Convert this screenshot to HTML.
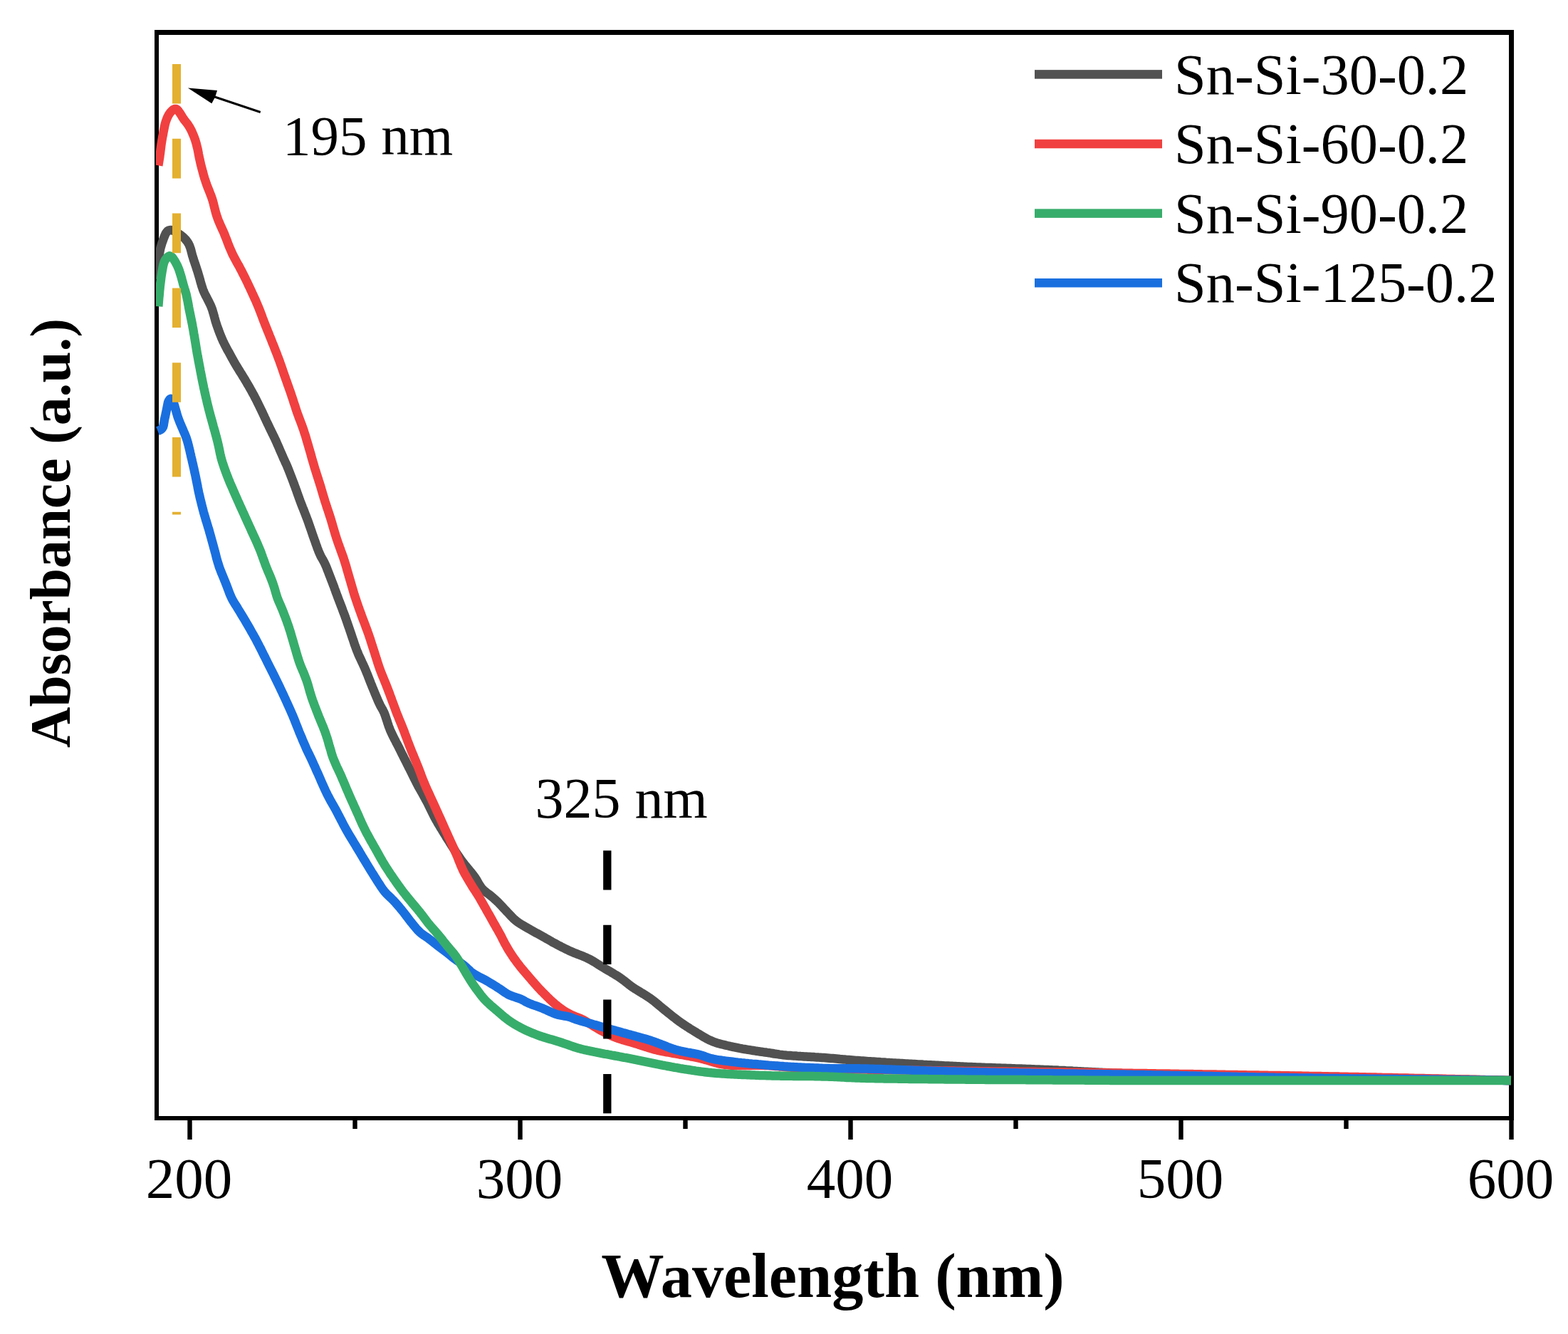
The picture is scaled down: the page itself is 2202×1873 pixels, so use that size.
<!DOCTYPE html>
<html><head><meta charset="utf-8"><title>UV-Vis Absorbance</title>
<style>html,body{margin:0;padding:0;background:#fff;overflow:hidden}svg{display:block}</style>
</head><body>
<svg width="2202" height="1873" viewBox="0 0 2202 1873">
<rect width="100%" height="100%" fill="#fff"/>
<defs><clipPath id="pc"><rect x="219" y="49" width="1904" height="1518"/></clipPath></defs>
<g fill="#000">
<rect x="217" y="42" width="1909" height="7"/>
<rect x="217" y="1567" width="1909" height="6"/>
<rect x="217" y="42" width="6" height="1531"/>
<rect x="2119" y="42" width="7" height="1531"/>
</g>
<g fill="none" stroke-width="12.5" stroke-linejoin="round" stroke-linecap="butt" clip-path="url(#pc)">
<path d="M221.0,392.0 L221.2,389.5 L221.4,387.0 L221.5,384.5 L221.7,382.0 L221.9,379.5 L222.1,377.0 L222.3,374.5 L222.5,372.0 L222.7,369.6 L222.9,367.1 L223.1,364.6 L223.3,362.1 L223.6,359.6 L223.8,357.1 L224.2,354.6 L224.6,352.2 L225.1,349.7 L225.7,347.3 L226.4,344.9 L227.1,342.5 L227.9,340.1 L228.8,337.7 L229.6,335.4 L230.5,333.0 L231.4,330.7 L232.4,328.4 L233.7,326.3 L235.3,324.5 L237.4,323.3 L239.7,322.9 L242.1,323.4 L244.3,324.4 L246.5,325.5 L248.7,326.8 L250.8,328.1 L252.9,329.5 L254.9,331.0 L256.8,332.6 L258.7,334.2 L260.4,336.0 L262.0,338.0 L263.5,340.0 L264.8,342.1 L265.9,344.4 L266.8,346.7 L267.6,349.0 L268.3,351.5 L268.9,353.9 L269.5,356.3 L270.1,358.7 L270.9,361.1 L271.6,363.5 L272.4,365.9 L273.2,368.3 L274.0,370.6 L274.8,373.0 L275.6,375.4 L276.3,377.7 L277.1,380.1 L277.9,382.5 L278.6,384.9 L279.3,387.3 L280.0,389.7 L280.7,392.1 L281.3,394.5 L282.0,396.9 L282.7,399.3 L283.4,401.7 L284.2,404.1 L285.0,406.5 L285.9,408.8 L286.9,411.1 L288.0,413.4 L289.1,415.6 L290.3,417.8 L291.4,420.0 L292.6,422.2 L293.7,424.5 L294.8,426.7 L295.9,429.0 L296.8,431.3 L297.7,433.6 L298.5,436.0 L299.2,438.4 L299.9,440.8 L300.6,443.2 L301.2,445.6 L301.9,448.1 L302.5,450.5 L303.3,452.9 L304.0,455.2 L304.8,457.6 L305.7,460.0 L306.5,462.3 L307.4,464.7 L308.2,467.0 L309.1,469.3 L310.1,471.7 L311.0,474.0 L312.0,476.3 L313.0,478.6 L314.1,480.8 L315.2,483.1 L316.3,485.3 L317.5,487.5 L318.6,489.7 L319.8,491.9 L321.1,494.1 L322.3,496.3 L323.5,498.5 L324.7,500.7 L325.9,502.9 L327.1,505.1 L328.3,507.3 L329.5,509.4 L330.8,511.6 L332.1,513.8 L333.4,515.9 L334.7,518.0 L336.0,520.1 L337.3,522.3 L338.7,524.4 L340.0,526.5 L341.3,528.7 L342.6,530.8 L343.9,532.9 L345.2,535.1 L346.5,537.2 L347.7,539.4 L349.0,541.5 L350.3,543.7 L351.5,545.9 L352.7,548.0 L353.9,550.2 L355.1,552.4 L356.3,554.6 L357.5,556.9 L358.6,559.1 L359.8,561.3 L360.9,563.5 L362.0,565.8 L363.1,568.0 L364.2,570.2 L365.3,572.5 L366.4,574.7 L367.5,577.0 L368.6,579.3 L369.6,581.5 L370.7,583.8 L371.7,586.1 L372.8,588.3 L373.8,590.6 L374.9,592.9 L376.0,595.1 L377.1,597.4 L378.1,599.6 L379.2,601.9 L380.3,604.1 L381.4,606.4 L382.5,608.6 L383.6,610.9 L384.7,613.1 L385.8,615.4 L386.9,617.7 L387.9,619.9 L388.9,622.2 L389.9,624.5 L390.9,626.8 L391.9,629.1 L392.9,631.4 L393.9,633.7 L394.9,636.0 L395.9,638.3 L396.9,640.6 L397.9,642.9 L398.9,645.1 L400.0,647.4 L401.0,649.7 L402.1,652.0 L403.1,654.3 L404.0,656.6 L405.0,658.9 L405.9,661.2 L406.8,663.5 L407.7,665.9 L408.6,668.2 L409.5,670.5 L410.4,672.9 L411.3,675.2 L412.2,677.6 L413.0,679.9 L413.9,682.2 L414.8,684.6 L415.6,686.9 L416.5,689.3 L417.3,691.7 L418.1,694.0 L419.0,696.4 L419.8,698.7 L420.7,701.1 L421.5,703.4 L422.4,705.8 L423.3,708.1 L424.2,710.4 L425.1,712.8 L426.1,715.1 L427.0,717.4 L427.9,719.7 L428.8,722.1 L429.7,724.4 L430.6,726.7 L431.5,729.1 L432.4,731.4 L433.2,733.8 L434.0,736.1 L434.8,738.5 L435.7,740.9 L436.5,743.2 L437.3,745.6 L438.1,748.0 L438.9,750.3 L439.7,752.7 L440.6,755.1 L441.4,757.4 L442.3,759.8 L443.1,762.1 L443.9,764.5 L444.8,766.8 L445.6,769.2 L446.5,771.5 L447.4,773.9 L448.4,776.2 L449.4,778.5 L450.4,780.7 L451.6,782.9 L452.9,785.1 L454.1,787.3 L455.3,789.5 L456.4,791.7 L457.4,794.0 L458.4,796.3 L459.3,798.6 L460.2,801.0 L461.1,803.3 L462.0,805.6 L462.9,808.0 L463.8,810.3 L464.7,812.6 L465.6,815.0 L466.5,817.3 L467.4,819.6 L468.3,822.0 L469.2,824.3 L470.0,826.7 L470.9,829.0 L471.7,831.4 L472.6,833.7 L473.5,836.1 L474.3,838.4 L475.2,840.7 L476.1,843.1 L477.0,845.4 L477.9,847.8 L478.8,850.1 L479.7,852.4 L480.6,854.8 L481.4,857.1 L482.3,859.5 L483.2,861.8 L484.1,864.1 L484.9,866.5 L485.8,868.9 L486.6,871.2 L487.4,873.6 L488.2,875.9 L489.0,878.3 L489.9,880.7 L490.7,883.0 L491.5,885.4 L492.3,887.8 L493.1,890.1 L493.9,892.5 L494.7,894.9 L495.5,897.2 L496.3,899.6 L497.1,902.0 L497.9,904.4 L498.7,906.7 L499.6,909.1 L500.4,911.4 L501.3,913.8 L502.3,916.1 L503.2,918.4 L504.2,920.7 L505.3,923.0 L506.3,925.2 L507.4,927.5 L508.4,929.8 L509.5,932.0 L510.5,934.3 L511.6,936.6 L512.6,938.9 L513.6,941.2 L514.5,943.5 L515.4,945.8 L516.4,948.1 L517.3,950.5 L518.2,952.8 L519.1,955.1 L520.0,957.4 L520.9,959.8 L521.9,962.1 L522.8,964.4 L523.8,966.7 L524.7,969.0 L525.7,971.4 L526.6,973.7 L527.6,976.0 L528.5,978.3 L529.5,980.6 L530.5,982.9 L531.5,985.2 L532.6,987.5 L533.6,989.7 L534.8,991.9 L536.0,994.1 L537.3,996.3 L538.4,998.5 L539.5,1000.8 L540.4,1003.1 L541.2,1005.4 L542.0,1007.8 L542.8,1010.2 L543.6,1012.6 L544.3,1014.9 L545.1,1017.3 L545.9,1019.7 L546.8,1022.0 L547.7,1024.4 L548.7,1026.7 L549.7,1028.9 L550.8,1031.2 L551.9,1033.5 L553.0,1035.7 L554.1,1037.9 L555.3,1040.1 L556.4,1042.4 L557.6,1044.6 L558.7,1046.8 L559.9,1049.0 L561.0,1051.3 L562.1,1053.5 L563.2,1055.7 L564.3,1058.0 L565.5,1060.2 L566.6,1062.5 L567.7,1064.7 L568.8,1066.9 L570.0,1069.2 L571.1,1071.4 L572.2,1073.6 L573.3,1075.9 L574.4,1078.1 L575.6,1080.3 L576.7,1082.6 L577.8,1084.8 L578.9,1087.1 L580.0,1089.3 L581.1,1091.6 L582.2,1093.8 L583.4,1096.0 L584.5,1098.2 L585.7,1100.5 L586.8,1102.7 L588.0,1104.9 L589.2,1107.1 L590.5,1109.2 L591.7,1111.4 L592.9,1113.6 L594.1,1115.8 L595.3,1118.0 L596.6,1120.2 L597.7,1122.4 L598.9,1124.6 L600.1,1126.8 L601.2,1129.0 L602.3,1131.3 L603.4,1133.5 L604.5,1135.8 L605.6,1138.0 L606.7,1140.3 L607.8,1142.5 L608.9,1144.7 L610.1,1147.0 L611.3,1149.2 L612.5,1151.4 L613.7,1153.5 L614.9,1155.7 L616.2,1157.9 L617.5,1160.0 L618.8,1162.2 L620.1,1164.3 L621.4,1166.4 L622.7,1168.6 L624.0,1170.7 L625.3,1172.8 L626.6,1175.0 L627.9,1177.1 L629.3,1179.2 L630.6,1181.3 L631.9,1183.4 L633.3,1185.6 L634.6,1187.7 L635.9,1189.8 L637.3,1191.9 L638.6,1194.0 L640.0,1196.1 L641.4,1198.2 L642.8,1200.3 L644.2,1202.3 L645.6,1204.4 L647.0,1206.5 L648.5,1208.5 L649.9,1210.5 L651.5,1212.5 L653.0,1214.5 L654.6,1216.4 L656.2,1218.3 L657.8,1220.2 L659.4,1222.2 L661.0,1224.1 L662.6,1226.0 L664.1,1228.0 L665.6,1230.0 L667.1,1232.0 L668.5,1234.1 L669.8,1236.2 L671.0,1238.4 L672.2,1240.6 L673.5,1242.7 L674.9,1244.8 L676.3,1246.9 L678.0,1248.7 L679.8,1250.5 L681.7,1252.0 L683.7,1253.6 L685.7,1255.0 L687.7,1256.5 L689.7,1258.1 L691.6,1259.7 L693.5,1261.4 L695.3,1263.0 L697.2,1264.7 L699.0,1266.4 L700.8,1268.2 L702.5,1270.0 L704.2,1271.8 L705.9,1273.6 L707.6,1275.5 L709.3,1277.3 L711.0,1279.1 L712.8,1281.0 L714.5,1282.8 L716.2,1284.6 L717.9,1286.4 L719.6,1288.2 L721.4,1290.0 L723.3,1291.6 L725.2,1293.2 L727.2,1294.7 L729.3,1296.1 L731.4,1297.5 L733.5,1298.8 L735.7,1300.0 L737.9,1301.3 L740.0,1302.5 L742.2,1303.8 L744.4,1305.0 L746.5,1306.3 L748.7,1307.5 L750.9,1308.7 L753.1,1309.9 L755.3,1311.1 L757.5,1312.3 L759.7,1313.5 L761.9,1314.7 L764.1,1315.9 L766.2,1317.2 L768.4,1318.4 L770.6,1319.7 L772.7,1320.9 L774.9,1322.2 L777.1,1323.4 L779.3,1324.6 L781.5,1325.8 L783.7,1327.0 L785.9,1328.1 L788.1,1329.3 L790.4,1330.4 L792.6,1331.5 L794.8,1332.6 L797.1,1333.7 L799.4,1334.8 L801.6,1335.8 L803.9,1336.8 L806.2,1337.8 L808.6,1338.7 L810.9,1339.6 L813.2,1340.5 L815.6,1341.4 L817.9,1342.3 L820.2,1343.3 L822.5,1344.2 L824.8,1345.3 L827.0,1346.4 L829.3,1347.5 L831.4,1348.7 L833.6,1350.0 L835.7,1351.3 L837.8,1352.6 L839.9,1354.0 L842.1,1355.3 L844.2,1356.7 L846.3,1358.0 L848.4,1359.3 L850.6,1360.6 L852.7,1361.8 L854.9,1363.1 L857.1,1364.3 L859.2,1365.6 L861.4,1366.9 L863.5,1368.2 L865.7,1369.5 L867.8,1370.8 L869.9,1372.2 L871.9,1373.6 L874.0,1375.1 L875.9,1376.6 L877.9,1378.1 L879.9,1379.7 L881.8,1381.2 L883.8,1382.8 L885.8,1384.3 L887.8,1385.7 L889.9,1387.1 L892.0,1388.5 L894.1,1389.8 L896.3,1391.1 L898.4,1392.4 L900.5,1393.7 L902.7,1395.0 L904.8,1396.3 L906.9,1397.6 L909.0,1399.0 L911.1,1400.4 L913.2,1401.8 L915.2,1403.3 L917.2,1404.8 L919.2,1406.3 L921.1,1407.9 L923.1,1409.5 L925.0,1411.1 L926.9,1412.7 L928.8,1414.3 L930.7,1415.9 L932.7,1417.5 L934.6,1419.0 L936.6,1420.6 L938.5,1422.2 L940.5,1423.7 L942.4,1425.3 L944.4,1426.9 L946.4,1428.4 L948.3,1429.9 L950.3,1431.5 L952.3,1433.0 L954.3,1434.5 L956.4,1435.9 L958.4,1437.3 L960.5,1438.7 L962.6,1440.1 L964.7,1441.5 L966.8,1442.8 L968.9,1444.2 L971.0,1445.5 L973.1,1446.8 L975.3,1448.1 L977.4,1449.4 L979.5,1450.7 L981.7,1452.0 L983.8,1453.3 L986.0,1454.6 L988.1,1455.9 L990.3,1457.1 L992.5,1458.4 L994.7,1459.5 L996.9,1460.6 L999.2,1461.6 L1001.5,1462.6 L1003.9,1463.4 L1006.3,1464.2 L1008.7,1464.9 L1011.1,1465.6 L1013.5,1466.2 L1015.9,1466.8 L1018.3,1467.4 L1020.8,1468.0 L1023.2,1468.5 L1025.7,1469.1 L1028.1,1469.6 L1030.5,1470.2 L1033.0,1470.7 L1035.4,1471.2 L1037.9,1471.7 L1040.4,1472.1 L1042.8,1472.6 L1045.3,1473.0 L1047.7,1473.4 L1050.2,1473.8 L1052.7,1474.2 L1055.2,1474.6 L1057.6,1475.0 L1060.1,1475.4 L1062.6,1475.8 L1065.0,1476.1 L1067.5,1476.5 L1070.0,1476.8 L1072.5,1477.2 L1075.0,1477.5 L1077.4,1477.9 L1079.9,1478.2 L1082.4,1478.6 L1084.8,1479.0 L1087.3,1479.5 L1089.8,1479.8 L1092.3,1480.2 L1094.7,1480.6 L1097.2,1480.9 L1099.7,1481.2 L1102.2,1481.4 L1104.7,1481.7 L1107.2,1481.9 L1109.7,1482.1 L1112.2,1482.3 L1114.7,1482.4 L1117.2,1482.6 L1119.6,1482.8 L1122.1,1482.9 L1124.6,1483.1 L1127.1,1483.2 L1129.6,1483.4 L1132.1,1483.5 L1134.6,1483.7 L1137.1,1483.8 L1139.6,1484.0 L1142.1,1484.1 L1144.6,1484.3 L1147.1,1484.4 L1149.6,1484.6 L1152.1,1484.7 L1154.6,1484.9 L1157.1,1485.1 L1159.6,1485.3 L1162.1,1485.5 L1164.6,1485.7 L1167.1,1485.9 L1169.6,1486.1 L1172.1,1486.3 L1174.6,1486.5 L1177.0,1486.7 L1179.5,1487.0 L1182.0,1487.2 L1184.5,1487.4 L1187.0,1487.6 L1189.5,1487.9 L1192.0,1488.1 L1194.5,1488.3 L1197.0,1488.5 L1199.5,1488.7 L1202.0,1488.9 L1204.5,1489.1 L1207.0,1489.3 L1209.5,1489.5 L1211.9,1489.6 L1214.4,1489.8 L1216.9,1490.0 L1219.4,1490.2 L1221.9,1490.3 L1224.4,1490.5 L1226.9,1490.6 L1229.4,1490.8 L1231.9,1491.0 L1234.4,1491.1 L1236.9,1491.3 L1239.4,1491.4 L1241.9,1491.6 L1244.4,1491.8 L1246.9,1491.9 L1249.4,1492.1 L1251.9,1492.2 L1254.4,1492.4 L1256.9,1492.5 L1259.4,1492.7 L1261.9,1492.8 L1264.4,1493.0 L1266.9,1493.1 L1269.4,1493.2 L1271.9,1493.4 L1274.4,1493.5 L1276.9,1493.7 L1279.4,1493.8 L1281.9,1494.0 L1284.4,1494.1 L1286.9,1494.2 L1289.4,1494.4 L1291.8,1494.5 L1294.3,1494.6 L1296.8,1494.8 L1299.3,1494.9 L1301.8,1495.1 L1304.3,1495.2 L1306.8,1495.3 L1309.3,1495.5 L1311.8,1495.6 L1314.3,1495.7 L1316.8,1495.8 L1319.3,1496.0 L1321.8,1496.1 L1324.3,1496.2 L1326.8,1496.4 L1329.3,1496.5 L1331.8,1496.6 L1334.3,1496.7 L1336.8,1496.8 L1339.3,1497.0 L1341.8,1497.1 L1344.3,1497.2 L1346.8,1497.3 L1349.3,1497.4 L1351.8,1497.5 L1354.3,1497.7 L1356.8,1497.8 L1359.3,1497.9 L1361.8,1498.0 L1364.3,1498.1 L1366.8,1498.2 L1369.3,1498.3 L1371.8,1498.4 L1374.3,1498.5 L1376.8,1498.6 L1379.3,1498.7 L1381.8,1498.8 L1384.3,1498.9 L1386.8,1498.9 L1389.3,1499.0 L1391.8,1499.1 L1394.3,1499.2 L1396.8,1499.3 L1399.3,1499.4 L1401.8,1499.5 L1404.3,1499.6 L1406.8,1499.7 L1409.3,1499.7 L1411.8,1499.8 L1414.3,1499.9 L1416.8,1500.0 L1419.3,1500.1 L1421.8,1500.2 L1424.3,1500.3 L1426.8,1500.4 L1429.3,1500.4 L1431.8,1500.5 L1434.3,1500.6 L1436.8,1500.7 L1439.3,1500.8 L1441.8,1500.9 L1444.3,1501.0 L1446.8,1501.1 L1449.3,1501.2 L1451.8,1501.3 L1454.3,1501.4 L1456.8,1501.5 L1459.3,1501.6 L1461.8,1501.7 L1464.3,1501.8 L1466.8,1501.9 L1469.3,1502.0 L1471.8,1502.1 L1474.3,1502.2 L1476.8,1502.3 L1479.3,1502.4 L1481.8,1502.5 L1484.3,1502.6 L1486.8,1502.8 L1489.3,1502.9 L1491.8,1503.0 L1494.3,1503.1 L1496.8,1503.3 L1499.3,1503.4 L1501.8,1503.5 L1504.3,1503.6 L1506.8,1503.8 L1509.3,1503.9 L1511.8,1504.0 L1514.3,1504.2 L1516.8,1504.3 L1519.3,1504.4 L1521.8,1504.6 L1524.3,1504.7 L1526.8,1504.8 L1529.3,1505.0 L1531.8,1505.1 L1534.3,1505.2 L1536.8,1505.3 L1539.3,1505.5 L1541.8,1505.6 L1544.3,1505.7 L1546.8,1505.8 L1549.3,1506.0 L1551.8,1506.1 L1554.3,1506.2 L1556.8,1506.3 L1559.2,1506.4 L1561.7,1506.6 L1564.2,1506.7 L1566.7,1506.8 L1569.2,1506.9 L1571.7,1507.0 L1574.2,1507.1 L1576.7,1507.2 L1579.2,1507.3 L1581.7,1507.4 L1584.2,1507.5 L1586.7,1507.6 L1589.2,1507.7 L1591.7,1507.7 L1594.2,1507.8 L1596.7,1507.9 L1599.2,1508.0 L1601.7,1508.1 L1604.2,1508.1 L1606.7,1508.2 L1609.2,1508.3 L1611.7,1508.3 L1614.2,1508.4 L1616.8,1508.5 L1619.3,1508.5 L1621.8,1508.6 L1624.3,1508.6 L1626.8,1508.7 L1629.3,1508.7 L1631.8,1508.8 L1634.3,1508.8 L1636.8,1508.9 L1639.3,1508.9 L1641.8,1509.0 L1644.3,1509.0 L1646.8,1509.1 L1649.3,1509.1 L1651.8,1509.2 L1654.3,1509.2 L1656.8,1509.3 L1659.3,1509.3 L1661.8,1509.3 L1664.3,1509.4 L1666.8,1509.4 L1669.3,1509.4 L1671.8,1509.5 L1674.3,1509.5 L1676.8,1509.6 L1679.3,1509.6 L1681.8,1509.6 L1684.3,1509.7 L1686.8,1509.7 L1689.3,1509.7 L1691.8,1509.8 L1694.3,1509.8 L1696.8,1509.8 L1699.3,1509.8 L1701.8,1509.9 L1704.3,1509.9 L1706.8,1509.9 L1709.3,1510.0 L1711.8,1510.0 L1714.3,1510.0 L1716.8,1510.1 L1719.3,1510.1 L1721.8,1510.1 L1724.3,1510.1 L1726.8,1510.2 L1729.3,1510.2 L1731.8,1510.2 L1734.3,1510.2 L1736.8,1510.3 L1739.3,1510.3 L1741.8,1510.3 L1744.3,1510.3 L1746.8,1510.4 L1749.3,1510.4 L1751.8,1510.4 L1754.3,1510.4 L1756.8,1510.5 L1759.3,1510.5 L1761.8,1510.5 L1764.3,1510.5 L1766.8,1510.6 L1769.3,1510.6 L1771.8,1510.6 L1774.3,1510.6 L1776.8,1510.7 L1779.3,1510.7 L1781.8,1510.7 L1784.3,1510.8 L1786.8,1510.8 L1789.3,1510.8 L1791.8,1510.8 L1794.3,1510.9 L1796.8,1510.9 L1799.4,1510.9 L1801.9,1510.9 L1804.4,1511.0 L1806.9,1511.0 L1809.4,1511.0 L1811.9,1511.1 L1814.4,1511.1 L1816.9,1511.1 L1819.4,1511.2 L1821.9,1511.2 L1824.4,1511.2 L1826.9,1511.2 L1829.4,1511.3 L1831.9,1511.3 L1834.4,1511.4 L1836.9,1511.4 L1839.4,1511.4 L1841.9,1511.5 L1844.4,1511.5 L1846.9,1511.5 L1849.4,1511.6 L1851.9,1511.6 L1854.4,1511.7 L1856.9,1511.7 L1859.4,1511.8 L1861.9,1511.8 L1864.4,1511.9 L1866.9,1511.9 L1869.4,1512.0 L1871.9,1512.0 L1874.4,1512.1 L1876.9,1512.1 L1879.4,1512.1 L1881.9,1512.2 L1884.4,1512.2 L1886.9,1512.3 L1889.4,1512.4 L1891.9,1512.4 L1894.4,1512.5 L1896.9,1512.5 L1899.4,1512.6 L1901.9,1512.6 L1904.4,1512.7 L1906.9,1512.7 L1909.4,1512.8 L1911.9,1512.8 L1914.4,1512.9 L1916.9,1512.9 L1919.4,1513.0 L1921.9,1513.0 L1924.4,1513.1 L1926.9,1513.2 L1929.4,1513.2 L1931.9,1513.3 L1934.4,1513.3 L1936.9,1513.4 L1939.4,1513.4 L1941.9,1513.5 L1944.4,1513.5 L1946.9,1513.6 L1949.4,1513.6 L1951.9,1513.7 L1954.4,1513.7 L1956.9,1513.8 L1959.4,1513.8 L1961.9,1513.9 L1964.4,1513.9 L1966.9,1514.0 L1969.4,1514.0 L1971.9,1514.1 L1974.4,1514.1 L1976.9,1514.2 L1979.4,1514.2 L1981.9,1514.3 L1984.4,1514.3 L1986.9,1514.4 L1989.4,1514.4 L1991.9,1514.5 L1994.4,1514.5 L1996.9,1514.6 L1999.4,1514.6 L2001.9,1514.7 L2004.4,1514.7 L2006.9,1514.8 L2009.4,1514.8 L2011.9,1514.9 L2014.5,1514.9 L2017.0,1515.0 L2019.5,1515.0 L2022.0,1515.1 L2024.5,1515.1 L2027.0,1515.2 L2029.5,1515.2 L2032.0,1515.3 L2034.5,1515.3 L2037.0,1515.4 L2039.5,1515.4 L2042.0,1515.5 L2044.5,1515.5 L2047.0,1515.6 L2049.5,1515.6 L2052.0,1515.7 L2054.5,1515.7 L2057.0,1515.7 L2059.5,1515.8 L2062.0,1515.8 L2064.5,1515.9 L2067.0,1515.9 L2069.5,1516.0 L2072.0,1516.0 L2074.5,1516.1 L2077.0,1516.1 L2079.5,1516.2 L2082.0,1516.2 L2084.5,1516.3 L2087.0,1516.3 L2089.5,1516.4 L2092.0,1516.4 L2094.5,1516.5 L2097.0,1516.5 L2099.5,1516.6 L2102.0,1516.6 L2104.5,1516.7 L2107.0,1516.7 L2109.5,1516.8 L2112.0,1516.8 L2114.5,1516.9 L2117.0,1516.9 L2119.5,1517.0 L2122.0,1517.0" stroke="#515151"/>
<path d="M222.3,232.4 L222.7,229.9 L223.1,227.5 L223.5,225.0 L223.9,222.5 L224.3,220.1 L224.6,217.6 L225.0,215.1 L225.3,212.6 L225.6,210.1 L225.9,207.7 L226.2,205.2 L226.5,202.7 L226.9,200.2 L227.3,197.8 L227.7,195.3 L228.1,192.8 L228.6,190.4 L229.1,187.9 L229.5,185.5 L230.0,183.0 L230.5,180.5 L231.0,178.1 L231.5,175.6 L232.1,173.2 L232.8,170.8 L233.6,168.5 L234.5,166.1 L235.5,163.9 L236.7,161.6 L238.0,159.5 L239.5,157.5 L241.2,155.7 L243.1,154.1 L245.2,153.0 L247.3,152.9 L249.2,154.2 L250.8,156.1 L252.2,158.2 L253.6,160.2 L254.9,162.3 L256.2,164.5 L257.6,166.6 L259.0,168.6 L260.6,170.6 L262.1,172.5 L263.6,174.5 L265.0,176.6 L266.3,178.8 L267.5,180.9 L268.7,183.2 L269.7,185.4 L270.7,187.7 L271.7,190.0 L272.6,192.3 L273.5,194.7 L274.3,197.1 L275.0,199.4 L275.7,201.8 L276.3,204.3 L276.9,206.7 L277.5,209.1 L278.0,211.6 L278.5,214.0 L278.9,216.5 L279.4,218.9 L279.9,221.4 L280.4,223.8 L281.0,226.3 L281.5,228.7 L282.1,231.2 L282.7,233.6 L283.3,236.0 L284.0,238.4 L284.6,240.8 L285.3,243.3 L285.9,245.7 L286.6,248.1 L287.3,250.5 L288.1,252.8 L288.9,255.2 L289.7,257.6 L290.5,259.9 L291.4,262.3 L292.3,264.6 L293.3,266.9 L294.2,269.2 L295.1,271.6 L296.0,273.9 L296.9,276.3 L297.7,278.6 L298.5,281.0 L299.2,283.4 L299.8,285.8 L300.4,288.2 L301.0,290.7 L301.6,293.1 L302.2,295.5 L302.9,297.9 L303.5,300.3 L304.3,302.7 L305.1,305.1 L305.9,307.4 L306.8,309.8 L307.8,312.1 L308.8,314.4 L309.8,316.7 L310.8,318.9 L311.8,321.2 L312.9,323.5 L313.9,325.8 L314.9,328.1 L315.8,330.4 L316.7,332.7 L317.7,335.1 L318.6,337.4 L319.4,339.7 L320.3,342.1 L321.2,344.4 L322.1,346.7 L323.1,349.0 L324.1,351.3 L325.1,353.6 L326.1,355.9 L327.2,358.1 L328.4,360.4 L329.5,362.6 L330.7,364.8 L331.9,367.0 L333.1,369.2 L334.3,371.3 L335.6,373.5 L336.7,375.7 L337.9,377.9 L339.1,380.2 L340.2,382.4 L341.3,384.6 L342.5,386.9 L343.6,389.1 L344.7,391.3 L345.8,393.6 L346.9,395.8 L348.0,398.1 L349.0,400.3 L350.1,402.6 L351.2,404.9 L352.2,407.1 L353.3,409.4 L354.3,411.7 L355.4,413.9 L356.4,416.2 L357.4,418.5 L358.5,420.8 L359.5,423.1 L360.5,425.4 L361.5,427.7 L362.4,430.0 L363.4,432.3 L364.3,434.6 L365.2,436.9 L366.1,439.3 L367.0,441.6 L367.9,443.9 L368.7,446.3 L369.6,448.6 L370.5,451.0 L371.4,453.3 L372.3,455.6 L373.2,457.9 L374.2,460.3 L375.1,462.6 L376.0,464.9 L377.0,467.2 L377.9,469.5 L378.8,471.9 L379.8,474.2 L380.7,476.5 L381.6,478.8 L382.5,481.2 L383.5,483.5 L384.4,485.8 L385.3,488.1 L386.2,490.5 L387.1,492.8 L388.0,495.1 L389.0,497.4 L389.8,499.8 L390.7,502.1 L391.6,504.5 L392.5,506.8 L393.3,509.2 L394.1,511.5 L395.0,513.9 L395.8,516.2 L396.6,518.6 L397.4,521.0 L398.2,523.3 L399.0,525.7 L399.9,528.1 L400.7,530.4 L401.5,532.8 L402.4,535.1 L403.2,537.5 L404.0,539.9 L404.9,542.2 L405.7,544.6 L406.5,546.9 L407.4,549.3 L408.2,551.6 L409.0,554.0 L409.8,556.4 L410.6,558.8 L411.4,561.1 L412.1,563.5 L412.9,565.9 L413.7,568.3 L414.5,570.6 L415.2,573.0 L416.0,575.4 L416.8,577.8 L417.6,580.1 L418.5,582.5 L419.3,584.8 L420.2,587.2 L421.1,589.5 L422.0,591.9 L422.9,594.2 L423.7,596.5 L424.6,598.9 L425.4,601.2 L426.3,603.6 L427.0,606.0 L427.8,608.4 L428.6,610.7 L429.3,613.1 L430.0,615.5 L430.7,617.9 L431.4,620.3 L432.1,622.7 L432.8,625.1 L433.5,627.5 L434.2,629.9 L434.9,632.3 L435.6,634.7 L436.3,637.1 L436.9,639.5 L437.6,642.0 L438.3,644.4 L439.0,646.8 L439.7,649.2 L440.4,651.6 L441.1,654.0 L441.8,656.4 L442.5,658.8 L443.3,661.1 L444.0,663.5 L444.8,665.9 L445.5,668.3 L446.3,670.7 L447.1,673.1 L447.8,675.4 L448.6,677.8 L449.3,680.2 L450.1,682.6 L450.8,685.0 L451.5,687.4 L452.2,689.8 L452.9,692.2 L453.6,694.6 L454.3,697.0 L455.1,699.4 L455.8,701.8 L456.5,704.2 L457.3,706.5 L458.1,708.9 L458.8,711.3 L459.6,713.7 L460.4,716.0 L461.2,718.4 L462.0,720.8 L462.7,723.2 L463.5,725.6 L464.3,727.9 L465.0,730.3 L465.7,732.7 L466.4,735.1 L467.1,737.5 L467.8,739.9 L468.5,742.3 L469.2,744.7 L469.9,747.1 L470.6,749.5 L471.4,751.9 L472.1,754.3 L472.9,756.7 L473.7,759.0 L474.5,761.4 L475.3,763.8 L476.2,766.1 L477.0,768.5 L477.9,770.8 L478.7,773.2 L479.6,775.5 L480.4,777.9 L481.3,780.2 L482.1,782.6 L482.9,785.0 L483.6,787.3 L484.4,789.7 L485.1,792.1 L485.9,794.5 L486.6,796.9 L487.2,799.3 L487.9,801.7 L488.6,804.1 L489.3,806.5 L490.0,808.9 L490.7,811.3 L491.4,813.7 L492.1,816.1 L492.8,818.5 L493.5,820.9 L494.2,823.3 L494.9,825.7 L495.6,828.1 L496.3,830.5 L497.0,832.9 L497.7,835.3 L498.5,837.7 L499.3,840.1 L500.1,842.5 L500.9,844.8 L501.7,847.2 L502.5,849.6 L503.3,851.9 L504.2,854.3 L505.0,856.6 L505.9,859.0 L506.7,861.3 L507.6,863.7 L508.4,866.0 L509.3,868.4 L510.2,870.7 L511.1,873.0 L512.0,875.4 L512.9,877.7 L513.7,880.1 L514.6,882.4 L515.5,884.7 L516.3,887.1 L517.2,889.5 L518.0,891.8 L518.8,894.2 L519.6,896.6 L520.4,898.9 L521.1,901.3 L521.9,903.7 L522.6,906.1 L523.4,908.5 L524.2,910.8 L524.9,913.2 L525.7,915.6 L526.5,918.0 L527.2,920.4 L528.0,922.8 L528.7,925.1 L529.5,927.5 L530.2,929.9 L531.0,932.3 L531.8,934.7 L532.6,937.0 L533.4,939.4 L534.3,941.7 L535.2,944.1 L536.1,946.4 L537.0,948.7 L538.0,951.0 L538.9,953.3 L539.9,955.7 L540.8,958.0 L541.8,960.3 L542.7,962.6 L543.6,964.9 L544.5,967.3 L545.4,969.6 L546.3,971.9 L547.2,974.3 L548.0,976.6 L548.9,979.0 L549.8,981.3 L550.6,983.7 L551.5,986.0 L552.4,988.4 L553.2,990.7 L554.1,993.0 L555.0,995.4 L555.8,997.7 L556.7,1000.1 L557.6,1002.4 L558.6,1004.7 L559.5,1007.0 L560.4,1009.4 L561.4,1011.7 L562.3,1014.0 L563.3,1016.3 L564.2,1018.6 L565.1,1020.9 L566.1,1023.3 L567.0,1025.6 L567.9,1027.9 L568.7,1030.3 L569.6,1032.6 L570.5,1035.0 L571.4,1037.3 L572.2,1039.7 L573.1,1042.0 L574.0,1044.3 L574.9,1046.7 L575.8,1049.0 L576.7,1051.3 L577.6,1053.7 L578.5,1056.0 L579.5,1058.3 L580.5,1060.6 L581.4,1062.9 L582.4,1065.2 L583.3,1067.5 L584.3,1069.8 L585.2,1072.2 L586.2,1074.5 L587.1,1076.8 L588.0,1079.1 L588.9,1081.5 L589.8,1083.8 L590.7,1086.1 L591.5,1088.5 L592.4,1090.8 L593.3,1093.2 L594.2,1095.5 L595.2,1097.8 L596.1,1100.1 L597.1,1102.4 L598.1,1104.7 L599.1,1107.0 L600.1,1109.3 L601.2,1111.5 L602.2,1113.8 L603.3,1116.1 L604.3,1118.4 L605.3,1120.6 L606.4,1122.9 L607.4,1125.2 L608.5,1127.5 L609.5,1129.7 L610.5,1132.0 L611.6,1134.3 L612.6,1136.6 L613.6,1138.9 L614.7,1141.1 L615.7,1143.4 L616.7,1145.7 L617.8,1148.0 L618.8,1150.2 L619.8,1152.5 L620.8,1154.8 L621.9,1157.1 L622.9,1159.4 L623.9,1161.6 L624.9,1163.9 L625.9,1166.2 L627.0,1168.5 L628.0,1170.8 L629.0,1173.1 L630.0,1175.3 L631.1,1177.6 L632.1,1179.9 L633.1,1182.2 L634.2,1184.5 L635.2,1186.7 L636.2,1189.0 L637.3,1191.3 L638.3,1193.6 L639.3,1195.9 L640.3,1198.1 L641.3,1200.4 L642.3,1202.7 L643.2,1205.1 L644.1,1207.4 L645.0,1209.7 L646.0,1212.0 L646.9,1214.4 L647.9,1216.7 L648.9,1218.9 L649.9,1221.2 L651.0,1223.5 L652.2,1225.7 L653.4,1227.9 L654.6,1230.1 L655.8,1232.2 L657.1,1234.4 L658.4,1236.5 L659.7,1238.7 L661.0,1240.8 L662.3,1243.0 L663.6,1245.1 L664.9,1247.2 L666.3,1249.3 L667.7,1251.4 L669.0,1253.5 L670.4,1255.6 L671.7,1257.7 L673.0,1259.9 L674.2,1262.0 L675.5,1264.2 L676.7,1266.3 L678.0,1268.5 L679.2,1270.7 L680.4,1272.9 L681.7,1275.0 L682.9,1277.2 L684.1,1279.4 L685.3,1281.6 L686.6,1283.8 L687.8,1285.9 L689.0,1288.1 L690.2,1290.3 L691.5,1292.5 L692.7,1294.7 L693.9,1296.8 L695.2,1299.0 L696.4,1301.2 L697.6,1303.4 L698.9,1305.5 L700.1,1307.7 L701.3,1309.9 L702.5,1312.1 L703.7,1314.3 L704.8,1316.5 L705.9,1318.8 L707.1,1321.0 L708.2,1323.2 L709.4,1325.4 L710.6,1327.6 L711.8,1329.8 L713.1,1332.0 L714.4,1334.1 L715.7,1336.2 L717.0,1338.3 L718.4,1340.4 L719.8,1342.5 L721.2,1344.6 L722.6,1346.6 L724.1,1348.6 L725.6,1350.7 L727.1,1352.7 L728.6,1354.6 L730.1,1356.6 L731.7,1358.6 L733.3,1360.5 L734.9,1362.4 L736.5,1364.3 L738.1,1366.2 L739.8,1368.1 L741.4,1370.0 L743.0,1371.9 L744.7,1373.8 L746.3,1375.7 L747.9,1377.6 L749.6,1379.5 L751.2,1381.4 L752.9,1383.2 L754.5,1385.1 L756.2,1387.0 L757.9,1388.8 L759.6,1390.6 L761.3,1392.4 L763.1,1394.2 L764.9,1396.0 L766.6,1397.7 L768.4,1399.5 L770.2,1401.2 L772.0,1403.0 L773.8,1404.7 L775.7,1406.4 L777.5,1408.0 L779.4,1409.7 L781.3,1411.3 L783.3,1412.8 L785.3,1414.4 L787.3,1415.8 L789.3,1417.3 L791.4,1418.7 L793.5,1420.0 L795.7,1421.3 L797.8,1422.5 L800.0,1423.7 L802.3,1424.8 L804.6,1425.9 L806.9,1426.8 L809.2,1427.7 L811.6,1428.6 L813.9,1429.5 L816.2,1430.5 L818.4,1431.6 L820.6,1432.8 L822.8,1434.0 L824.9,1435.3 L827.1,1436.6 L829.2,1438.0 L831.3,1439.3 L833.4,1440.6 L835.5,1441.9 L837.7,1443.2 L839.8,1444.5 L842.0,1445.7 L844.2,1446.9 L846.4,1448.1 L848.6,1449.3 L850.8,1450.4 L853.1,1451.5 L855.3,1452.6 L857.6,1453.7 L859.9,1454.7 L862.2,1455.7 L864.5,1456.6 L866.8,1457.5 L869.2,1458.3 L871.6,1459.1 L874.0,1459.9 L876.3,1460.6 L878.7,1461.3 L881.2,1462.0 L883.6,1462.6 L886.0,1463.3 L888.4,1464.0 L890.8,1464.7 L893.2,1465.4 L895.5,1466.2 L897.9,1467.0 L900.3,1467.7 L902.7,1468.5 L905.1,1469.3 L907.4,1470.1 L909.8,1470.8 L912.2,1471.6 L914.6,1472.3 L917.0,1473.0 L919.4,1473.7 L921.8,1474.3 L924.3,1474.9 L926.7,1475.4 L929.1,1475.9 L931.6,1476.4 L934.1,1476.8 L936.5,1477.3 L939.0,1477.7 L941.5,1478.1 L943.9,1478.5 L946.4,1479.0 L948.8,1479.4 L951.3,1479.9 L953.8,1480.3 L956.2,1480.8 L958.7,1481.2 L961.1,1481.6 L963.6,1482.1 L966.1,1482.5 L968.5,1483.0 L971.0,1483.5 L973.4,1483.9 L975.9,1484.4 L978.3,1484.9 L980.8,1485.4 L983.2,1486.0 L985.7,1486.6 L988.1,1487.2 L990.5,1487.9 L992.9,1488.6 L995.3,1489.3 L997.7,1490.0 L1000.1,1490.8 L1002.5,1491.5 L1004.9,1492.1 L1007.3,1492.8 L1009.7,1493.3 L1012.2,1493.9 L1014.6,1494.3 L1017.1,1494.7 L1019.6,1495.0 L1022.1,1495.3 L1024.5,1495.5 L1027.0,1495.7 L1029.5,1495.8 L1032.0,1495.9 L1034.5,1495.9 L1037.0,1496.0 L1039.5,1496.0 L1042.0,1496.0 L1044.5,1496.0 L1047.0,1495.9 L1049.5,1495.9 L1052.0,1495.9 L1054.5,1495.9 L1057.0,1495.8 L1059.5,1495.8 L1062.0,1495.8 L1064.5,1495.8 L1067.0,1495.8 L1069.5,1495.8 L1072.0,1495.8 L1074.5,1495.9 L1077.0,1496.0 L1079.5,1496.1 L1082.0,1496.3 L1084.5,1496.5 L1087.0,1496.7 L1089.5,1496.9 L1092.0,1497.1 L1094.5,1497.4 L1097.0,1497.6 L1099.5,1497.8 L1102.0,1498.1 L1104.5,1498.3 L1106.9,1498.4 L1109.4,1498.6 L1111.9,1498.8 L1114.4,1498.9 L1116.9,1499.0 L1119.4,1499.2 L1121.9,1499.3 L1124.4,1499.4 L1126.9,1499.5 L1129.4,1499.6 L1131.9,1499.7 L1134.4,1499.7 L1136.9,1499.8 L1139.4,1499.9 L1141.9,1500.0 L1144.4,1500.1 L1146.9,1500.1 L1149.4,1500.2 L1151.9,1500.3 L1154.4,1500.3 L1156.9,1500.4 L1159.4,1500.5 L1161.9,1500.5 L1164.4,1500.6 L1166.9,1500.6 L1169.4,1500.7 L1171.9,1500.8 L1174.4,1500.8 L1176.9,1500.9 L1179.4,1500.9 L1181.9,1501.0 L1184.4,1501.0 L1186.9,1501.1 L1189.4,1501.1 L1191.9,1501.2 L1194.4,1501.2 L1196.9,1501.3 L1199.4,1501.3 L1201.9,1501.4 L1204.4,1501.4 L1206.9,1501.4 L1209.4,1501.5 L1211.9,1501.5 L1214.4,1501.6 L1216.9,1501.6 L1219.4,1501.7 L1221.9,1501.7 L1224.4,1501.8 L1226.9,1501.8 L1229.4,1501.8 L1231.9,1501.9 L1234.4,1501.9 L1236.9,1502.0 L1239.4,1502.0 L1241.9,1502.0 L1244.4,1502.1 L1246.9,1502.1 L1249.4,1502.2 L1251.9,1502.2 L1254.4,1502.2 L1256.9,1502.3 L1259.4,1502.3 L1261.9,1502.4 L1264.4,1502.4 L1266.9,1502.4 L1269.4,1502.5 L1271.9,1502.5 L1274.4,1502.6 L1276.9,1502.6 L1279.4,1502.7 L1281.9,1502.7 L1284.4,1502.7 L1286.9,1502.8 L1289.4,1502.8 L1291.9,1502.9 L1294.4,1502.9 L1296.9,1502.9 L1299.4,1503.0 L1301.9,1503.0 L1304.4,1503.1 L1306.9,1503.1 L1309.4,1503.2 L1311.9,1503.2 L1314.4,1503.2 L1316.9,1503.3 L1319.4,1503.3 L1321.9,1503.4 L1324.4,1503.4 L1326.9,1503.4 L1329.4,1503.5 L1331.9,1503.5 L1334.4,1503.6 L1336.9,1503.6 L1339.4,1503.6 L1341.9,1503.7 L1344.4,1503.7 L1346.9,1503.7 L1349.4,1503.8 L1351.9,1503.8 L1354.4,1503.9 L1356.9,1503.9 L1359.4,1503.9 L1361.9,1504.0 L1364.4,1504.0 L1366.9,1504.0 L1369.4,1504.1 L1371.9,1504.1 L1374.4,1504.1 L1376.9,1504.2 L1379.4,1504.2 L1381.9,1504.2 L1384.4,1504.3 L1386.9,1504.3 L1389.4,1504.3 L1391.9,1504.4 L1394.4,1504.4 L1396.9,1504.4 L1399.4,1504.4 L1401.9,1504.5 L1404.4,1504.5 L1406.9,1504.5 L1409.4,1504.6 L1411.9,1504.6 L1414.4,1504.6 L1416.9,1504.7 L1419.4,1504.7 L1421.9,1504.7 L1424.4,1504.8 L1426.9,1504.8 L1429.4,1504.8 L1431.9,1504.9 L1434.4,1504.9 L1436.9,1504.9 L1439.4,1504.9 L1441.9,1505.0 L1444.4,1505.0 L1447.0,1505.0 L1449.5,1505.1 L1452.0,1505.1 L1454.5,1505.1 L1457.0,1505.2 L1459.5,1505.2 L1462.0,1505.2 L1464.5,1505.2 L1467.0,1505.3 L1469.5,1505.3 L1472.0,1505.3 L1474.5,1505.4 L1477.0,1505.4 L1479.5,1505.4 L1482.0,1505.5 L1484.5,1505.5 L1487.0,1505.5 L1489.5,1505.5 L1492.0,1505.6 L1494.5,1505.6 L1497.0,1505.6 L1499.5,1505.7 L1502.0,1505.7 L1504.5,1505.7 L1507.0,1505.8 L1509.5,1505.8 L1512.0,1505.8 L1514.5,1505.8 L1517.0,1505.9 L1519.5,1505.9 L1522.0,1505.9 L1524.5,1506.0 L1527.0,1506.0 L1529.5,1506.0 L1532.0,1506.1 L1534.5,1506.1 L1537.0,1506.1 L1539.5,1506.2 L1542.0,1506.2 L1544.5,1506.2 L1547.0,1506.3 L1549.5,1506.3 L1552.0,1506.3 L1554.5,1506.4 L1557.0,1506.4 L1559.5,1506.4 L1562.0,1506.5 L1564.5,1506.5 L1567.0,1506.5 L1569.5,1506.6 L1572.0,1506.6 L1574.5,1506.6 L1577.0,1506.7 L1579.5,1506.7 L1582.0,1506.7 L1584.5,1506.8 L1587.0,1506.8 L1589.5,1506.8 L1592.0,1506.9 L1594.5,1506.9 L1597.0,1507.0 L1599.5,1507.0 L1602.0,1507.0 L1604.5,1507.1 L1607.0,1507.1 L1609.5,1507.1 L1612.0,1507.2 L1614.5,1507.2 L1617.0,1507.3 L1619.5,1507.3 L1622.0,1507.3 L1624.5,1507.4 L1627.0,1507.4 L1629.5,1507.4 L1632.0,1507.5 L1634.5,1507.5 L1637.0,1507.6 L1639.5,1507.6 L1642.0,1507.6 L1644.5,1507.7 L1647.0,1507.7 L1649.5,1507.7 L1652.0,1507.8 L1654.5,1507.8 L1657.0,1507.9 L1659.5,1507.9 L1662.0,1507.9 L1664.5,1508.0 L1667.0,1508.0 L1669.5,1508.1 L1672.0,1508.1 L1674.5,1508.1 L1677.0,1508.2 L1679.5,1508.2 L1682.0,1508.3 L1684.5,1508.3 L1687.0,1508.3 L1689.5,1508.4 L1692.0,1508.4 L1694.5,1508.4 L1697.0,1508.5 L1699.5,1508.5 L1702.0,1508.6 L1704.5,1508.6 L1707.0,1508.6 L1709.5,1508.7 L1712.0,1508.7 L1714.5,1508.8 L1717.0,1508.8 L1719.5,1508.8 L1722.0,1508.9 L1724.5,1508.9 L1727.0,1509.0 L1729.5,1509.0 L1732.0,1509.0 L1734.5,1509.1 L1737.0,1509.1 L1739.5,1509.2 L1742.0,1509.2 L1744.5,1509.2 L1747.0,1509.3 L1749.5,1509.3 L1752.0,1509.4 L1754.5,1509.4 L1757.0,1509.5 L1759.5,1509.5 L1762.0,1509.5 L1764.5,1509.6 L1767.0,1509.6 L1769.5,1509.7 L1772.0,1509.7 L1774.5,1509.7 L1777.0,1509.8 L1779.5,1509.8 L1782.0,1509.9 L1784.5,1509.9 L1787.0,1510.0 L1789.5,1510.0 L1792.0,1510.0 L1794.5,1510.1 L1797.0,1510.1 L1799.5,1510.2 L1802.0,1510.2 L1804.5,1510.3 L1807.0,1510.3 L1809.5,1510.3 L1812.0,1510.4 L1814.5,1510.4 L1817.0,1510.5 L1819.5,1510.5 L1822.0,1510.6 L1824.5,1510.6 L1827.0,1510.6 L1829.5,1510.7 L1832.0,1510.7 L1834.5,1510.8 L1837.0,1510.8 L1839.5,1510.9 L1842.0,1510.9 L1844.5,1511.0 L1847.0,1511.0 L1849.5,1511.0 L1852.0,1511.1 L1854.5,1511.1 L1857.0,1511.2 L1859.5,1511.2 L1862.0,1511.3 L1864.5,1511.3 L1867.0,1511.4 L1869.5,1511.4 L1872.0,1511.5 L1874.5,1511.5 L1877.0,1511.6 L1879.5,1511.6 L1882.0,1511.7 L1884.5,1511.7 L1887.0,1511.7 L1889.5,1511.8 L1892.0,1511.8 L1894.5,1511.9 L1897.0,1511.9 L1899.5,1512.0 L1902.0,1512.0 L1904.5,1512.1 L1907.0,1512.1 L1909.5,1512.2 L1912.0,1512.2 L1914.5,1512.3 L1917.0,1512.3 L1919.5,1512.4 L1922.0,1512.4 L1924.5,1512.5 L1927.0,1512.5 L1929.5,1512.6 L1932.0,1512.6 L1934.5,1512.7 L1937.0,1512.8 L1939.5,1512.8 L1942.0,1512.9 L1944.5,1512.9 L1947.0,1513.0 L1949.5,1513.0 L1952.0,1513.1 L1954.5,1513.1 L1957.0,1513.2 L1959.5,1513.2 L1962.0,1513.3 L1964.5,1513.4 L1967.0,1513.4 L1969.5,1513.5 L1972.0,1513.5 L1974.5,1513.6 L1977.0,1513.6 L1979.5,1513.7 L1982.0,1513.7 L1984.5,1513.8 L1987.0,1513.9 L1989.5,1513.9 L1992.0,1514.0 L1994.5,1514.0 L1997.0,1514.1 L1999.5,1514.1 L2002.0,1514.2 L2004.5,1514.3 L2007.0,1514.3 L2009.5,1514.4 L2012.0,1514.4 L2014.5,1514.5 L2017.0,1514.6 L2019.5,1514.6 L2022.0,1514.7 L2024.5,1514.7 L2027.0,1514.8 L2029.5,1514.8 L2032.0,1514.9 L2034.5,1515.0 L2037.0,1515.0 L2039.5,1515.1 L2042.0,1515.1 L2044.5,1515.2 L2047.0,1515.3 L2049.5,1515.3 L2052.0,1515.4 L2054.5,1515.4 L2057.0,1515.5 L2059.5,1515.6 L2062.0,1515.6 L2064.5,1515.7 L2067.0,1515.7 L2069.5,1515.8 L2072.0,1515.8 L2074.5,1515.9 L2077.0,1516.0 L2079.5,1516.0 L2082.0,1516.1 L2084.5,1516.1 L2087.0,1516.2 L2089.5,1516.3 L2092.0,1516.3 L2094.5,1516.4 L2097.0,1516.4 L2099.5,1516.5 L2102.0,1516.5 L2104.5,1516.6 L2107.0,1516.7 L2109.5,1516.7 L2112.0,1516.8 L2114.5,1516.8 L2117.0,1516.9 L2119.5,1516.9 L2122.0,1517.0" stroke="#F14040"/>
<path d="M221.5,605.1 L223.8,604.2 L226.0,603.1 L227.8,601.5 L229.0,599.4 L229.7,597.0 L230.1,594.5 L230.5,592.1 L230.9,589.6 L231.4,587.2 L232.0,584.7 L232.5,582.3 L233.0,579.8 L233.5,577.4 L234.0,574.9 L234.5,572.5 L235.0,570.0 L235.5,567.5 L236.0,565.1 L236.9,562.8 L238.2,560.8 L240.0,559.8 L241.7,560.5 L242.9,562.4 L243.7,564.8 L244.4,567.2 L245.1,569.6 L245.8,572.0 L246.5,574.4 L247.2,576.8 L247.8,579.2 L248.5,581.6 L249.2,584.0 L250.0,586.4 L250.9,588.7 L251.8,591.1 L252.7,593.4 L253.7,595.7 L254.6,598.0 L255.6,600.3 L256.6,602.6 L257.6,604.9 L258.6,607.2 L259.6,609.5 L260.5,611.8 L261.4,614.1 L262.2,616.5 L263.0,618.9 L263.6,621.3 L264.3,623.7 L264.9,626.1 L265.5,628.6 L266.1,631.0 L266.7,633.4 L267.2,635.9 L267.8,638.3 L268.3,640.8 L268.9,643.2 L269.5,645.6 L270.0,648.1 L270.6,650.5 L271.2,653.0 L271.7,655.4 L272.3,657.8 L272.8,660.3 L273.3,662.7 L273.9,665.2 L274.4,667.6 L274.9,670.1 L275.4,672.5 L275.9,675.0 L276.4,677.4 L276.9,679.9 L277.4,682.3 L277.8,684.8 L278.3,687.2 L278.8,689.7 L279.3,692.1 L279.9,694.6 L280.4,697.0 L281.0,699.5 L281.6,701.9 L282.2,704.3 L282.8,706.8 L283.4,709.2 L284.0,711.6 L284.6,714.0 L285.3,716.4 L285.9,718.9 L286.6,721.3 L287.3,723.7 L288.0,726.1 L288.7,728.5 L289.4,730.9 L290.2,733.3 L290.9,735.7 L291.6,738.1 L292.3,740.4 L293.1,742.8 L293.8,745.3 L294.4,747.7 L295.1,750.1 L295.8,752.5 L296.5,754.9 L297.1,757.3 L297.8,759.7 L298.4,762.1 L299.1,764.5 L299.8,767.0 L300.4,769.4 L301.1,771.8 L301.7,774.2 L302.4,776.6 L303.0,779.0 L303.6,781.5 L304.2,783.9 L304.9,786.3 L305.6,788.7 L306.3,791.1 L307.1,793.5 L307.8,795.9 L308.7,798.2 L309.6,800.6 L310.5,802.9 L311.4,805.2 L312.4,807.5 L313.3,809.8 L314.3,812.2 L315.2,814.5 L316.2,816.8 L317.1,819.1 L318.0,821.4 L318.9,823.8 L319.8,826.1 L320.7,828.5 L321.5,830.8 L322.4,833.1 L323.4,835.5 L324.4,837.8 L325.4,840.0 L326.6,842.2 L327.8,844.4 L329.1,846.6 L330.4,848.7 L331.8,850.8 L333.1,852.9 L334.4,855.1 L335.7,857.2 L337.0,859.3 L338.3,861.5 L339.6,863.6 L340.9,865.8 L342.2,867.9 L343.5,870.0 L344.8,872.2 L346.0,874.3 L347.3,876.5 L348.6,878.7 L349.8,880.8 L351.1,883.0 L352.3,885.2 L353.5,887.4 L354.7,889.5 L356.0,891.7 L357.2,893.9 L358.4,896.1 L359.6,898.3 L360.7,900.5 L361.9,902.7 L363.1,904.9 L364.2,907.2 L365.4,909.4 L366.5,911.6 L367.6,913.9 L368.7,916.1 L369.8,918.4 L370.9,920.6 L372.1,922.8 L373.2,925.1 L374.3,927.3 L375.4,929.6 L376.5,931.8 L377.6,934.0 L378.8,936.3 L379.9,938.5 L381.0,940.7 L382.2,943.0 L383.3,945.2 L384.4,947.4 L385.5,949.7 L386.6,951.9 L387.7,954.2 L388.8,956.4 L389.9,958.7 L391.0,960.9 L392.1,963.2 L393.2,965.4 L394.2,967.7 L395.3,970.0 L396.4,972.2 L397.4,974.5 L398.5,976.8 L399.5,979.0 L400.6,981.3 L401.6,983.6 L402.7,985.9 L403.7,988.1 L404.7,990.4 L405.8,992.7 L406.8,995.0 L407.8,997.3 L408.8,999.6 L409.8,1001.8 L410.8,1004.1 L411.8,1006.5 L412.7,1008.8 L413.7,1011.1 L414.6,1013.4 L415.5,1015.7 L416.4,1018.1 L417.4,1020.4 L418.3,1022.7 L419.2,1025.0 L420.1,1027.4 L421.1,1029.7 L422.0,1032.0 L423.0,1034.3 L424.0,1036.6 L424.9,1038.9 L425.9,1041.2 L426.9,1043.5 L427.9,1045.8 L428.9,1048.1 L429.9,1050.4 L430.9,1052.7 L432.0,1054.9 L433.1,1057.2 L434.2,1059.4 L435.3,1061.7 L436.4,1064.0 L437.4,1066.2 L438.5,1068.5 L439.5,1070.8 L440.5,1073.1 L441.6,1075.3 L442.6,1077.6 L443.6,1079.9 L444.6,1082.2 L445.7,1084.5 L446.7,1086.7 L447.7,1089.0 L448.7,1091.3 L449.7,1093.6 L450.7,1095.9 L451.7,1098.2 L452.7,1100.5 L453.7,1102.8 L454.8,1105.1 L455.8,1107.3 L456.8,1109.6 L457.9,1111.9 L459.0,1114.1 L460.1,1116.4 L461.3,1118.6 L462.4,1120.8 L463.6,1123.0 L464.8,1125.2 L466.1,1127.4 L467.3,1129.6 L468.5,1131.7 L469.8,1133.9 L471.0,1136.1 L472.2,1138.3 L473.4,1140.5 L474.5,1142.7 L475.7,1144.9 L476.8,1147.1 L478.0,1149.4 L479.1,1151.6 L480.3,1153.8 L481.4,1156.0 L482.6,1158.3 L483.8,1160.5 L485.0,1162.7 L486.2,1164.8 L487.4,1167.0 L488.7,1169.2 L489.9,1171.3 L491.2,1173.5 L492.5,1175.6 L493.8,1177.8 L495.1,1179.9 L496.4,1182.1 L497.7,1184.2 L499.0,1186.3 L500.3,1188.5 L501.6,1190.6 L502.9,1192.8 L504.2,1194.9 L505.5,1197.1 L506.7,1199.2 L508.0,1201.4 L509.3,1203.5 L510.6,1205.7 L511.9,1207.8 L513.2,1209.9 L514.5,1212.1 L515.8,1214.2 L517.1,1216.4 L518.4,1218.5 L519.7,1220.6 L521.0,1222.7 L522.3,1224.9 L523.7,1227.0 L525.0,1229.1 L526.3,1231.2 L527.7,1233.4 L529.0,1235.5 L530.3,1237.6 L531.7,1239.7 L533.1,1241.8 L534.4,1243.9 L535.8,1246.0 L537.2,1248.0 L538.7,1250.1 L540.2,1252.0 L541.9,1253.9 L543.6,1255.7 L545.4,1257.4 L547.2,1259.1 L549.1,1260.9 L550.8,1262.6 L552.6,1264.4 L554.3,1266.2 L556.0,1268.1 L557.6,1270.0 L559.3,1271.9 L560.9,1273.8 L562.5,1275.7 L564.1,1277.6 L565.7,1279.6 L567.2,1281.5 L568.7,1283.5 L570.2,1285.5 L571.8,1287.5 L573.3,1289.5 L574.8,1291.5 L576.3,1293.5 L577.9,1295.4 L579.5,1297.4 L581.0,1299.3 L582.6,1301.2 L584.2,1303.2 L585.9,1305.1 L587.6,1306.9 L589.4,1308.6 L591.2,1310.3 L593.2,1311.8 L595.3,1313.2 L597.4,1314.6 L599.5,1316.0 L601.5,1317.4 L603.5,1318.9 L605.5,1320.4 L607.5,1322.0 L609.4,1323.6 L611.3,1325.1 L613.3,1326.7 L615.3,1328.2 L617.3,1329.7 L619.3,1331.2 L621.3,1332.7 L623.3,1334.2 L625.3,1335.7 L627.3,1337.2 L629.3,1338.8 L631.2,1340.3 L633.1,1341.9 L635.1,1343.5 L637.0,1345.0 L639.0,1346.6 L641.0,1348.1 L643.1,1349.5 L645.1,1350.9 L647.2,1352.3 L649.3,1353.7 L651.3,1355.2 L653.2,1356.8 L655.1,1358.5 L656.9,1360.2 L658.7,1361.9 L660.5,1363.6 L662.4,1365.3 L664.5,1366.7 L666.5,1368.1 L668.7,1369.3 L670.9,1370.5 L673.2,1371.7 L675.4,1372.8 L677.6,1373.9 L679.8,1375.1 L682.0,1376.3 L684.2,1377.5 L686.3,1378.8 L688.5,1380.1 L690.6,1381.4 L692.8,1382.7 L694.9,1384.0 L697.0,1385.3 L699.1,1386.7 L701.2,1388.0 L703.3,1389.4 L705.4,1390.9 L707.4,1392.3 L709.5,1393.7 L711.6,1395.0 L713.8,1396.3 L716.0,1397.4 L718.3,1398.3 L720.7,1399.1 L723.1,1399.9 L725.5,1400.7 L727.8,1401.4 L730.2,1402.3 L732.5,1403.3 L734.7,1404.4 L736.9,1405.7 L739.1,1406.9 L741.3,1408.0 L743.6,1409.0 L745.9,1409.9 L748.3,1410.8 L750.6,1411.6 L753.0,1412.4 L755.3,1413.3 L757.7,1414.1 L760.0,1415.0 L762.4,1415.9 L764.7,1416.9 L766.9,1417.9 L769.2,1419.0 L771.5,1420.0 L773.8,1421.1 L776.1,1422.1 L778.4,1423.0 L780.7,1423.8 L783.1,1424.6 L785.6,1425.2 L788.0,1425.7 L790.5,1426.1 L792.9,1426.5 L795.4,1426.9 L797.9,1427.4 L800.3,1428.1 L802.6,1428.9 L805.0,1429.8 L807.3,1430.7 L809.6,1431.6 L812.0,1432.3 L814.4,1433.0 L816.8,1433.8 L819.2,1434.4 L821.6,1435.1 L824.0,1435.8 L826.4,1436.5 L828.9,1437.1 L831.3,1437.8 L833.7,1438.5 L836.1,1439.1 L838.5,1439.8 L840.9,1440.5 L843.3,1441.2 L845.7,1441.8 L848.1,1442.5 L850.5,1443.2 L853.0,1443.9 L855.4,1444.6 L857.8,1445.2 L860.2,1445.9 L862.6,1446.6 L865.0,1447.3 L867.4,1447.9 L869.8,1448.6 L872.2,1449.3 L874.6,1450.0 L877.0,1450.6 L879.5,1451.3 L881.9,1452.0 L884.3,1452.6 L886.7,1453.3 L889.1,1453.9 L891.5,1454.6 L893.9,1455.3 L896.4,1455.9 L898.8,1456.6 L901.2,1457.2 L903.6,1457.9 L906.0,1458.6 L908.4,1459.3 L910.8,1460.1 L913.2,1460.8 L915.6,1461.6 L917.9,1462.4 L920.3,1463.2 L922.6,1464.1 L925.0,1465.0 L927.3,1465.9 L929.6,1466.8 L932.0,1467.7 L934.3,1468.6 L936.6,1469.6 L939.0,1470.5 L941.3,1471.3 L943.7,1472.2 L946.0,1472.9 L948.4,1473.7 L950.8,1474.4 L953.2,1475.0 L955.7,1475.6 L958.1,1476.1 L960.6,1476.6 L963.0,1477.1 L965.5,1477.6 L967.9,1478.0 L970.4,1478.5 L972.9,1478.9 L975.3,1479.4 L977.8,1479.9 L980.2,1480.4 L982.7,1481.0 L985.1,1481.7 L987.4,1482.5 L989.8,1483.3 L992.1,1484.2 L994.5,1485.0 L996.9,1485.7 L999.3,1486.3 L1001.8,1486.9 L1004.2,1487.3 L1006.7,1487.8 L1009.2,1488.2 L1011.6,1488.5 L1014.1,1488.9 L1016.6,1489.3 L1019.1,1489.6 L1021.6,1489.9 L1024.0,1490.2 L1026.5,1490.5 L1029.0,1490.8 L1031.5,1491.1 L1034.0,1491.4 L1036.5,1491.7 L1039.0,1491.9 L1041.4,1492.2 L1043.9,1492.4 L1046.4,1492.7 L1048.9,1492.9 L1051.4,1493.2 L1053.9,1493.4 L1056.4,1493.7 L1058.9,1493.9 L1061.4,1494.1 L1063.9,1494.3 L1066.4,1494.6 L1068.8,1494.8 L1071.3,1495.0 L1073.8,1495.2 L1076.3,1495.4 L1078.8,1495.7 L1081.3,1495.9 L1083.8,1496.1 L1086.3,1496.2 L1088.8,1496.4 L1091.3,1496.6 L1093.8,1496.8 L1096.3,1497.0 L1098.8,1497.1 L1101.3,1497.3 L1103.8,1497.4 L1106.3,1497.6 L1108.8,1497.7 L1111.3,1497.9 L1113.8,1498.0 L1116.3,1498.2 L1118.8,1498.3 L1121.3,1498.4 L1123.8,1498.5 L1126.3,1498.7 L1128.8,1498.8 L1131.3,1498.9 L1133.8,1499.0 L1136.3,1499.1 L1138.8,1499.2 L1141.3,1499.3 L1143.8,1499.4 L1146.3,1499.5 L1148.8,1499.6 L1151.3,1499.7 L1153.8,1499.8 L1156.3,1499.9 L1158.8,1500.0 L1161.3,1500.0 L1163.8,1500.1 L1166.3,1500.2 L1168.8,1500.2 L1171.3,1500.2 L1173.8,1500.3 L1176.3,1500.3 L1178.8,1500.3 L1181.3,1500.3 L1183.8,1500.3 L1186.3,1500.3 L1188.8,1500.2 L1191.3,1500.2 L1193.8,1500.2 L1196.3,1500.2 L1198.8,1500.3 L1201.3,1500.3 L1203.8,1500.3 L1206.3,1500.3 L1208.8,1500.4 L1211.3,1500.4 L1213.8,1500.5 L1216.3,1500.5 L1218.8,1500.6 L1221.3,1500.7 L1223.8,1500.7 L1226.3,1500.8 L1228.8,1500.9 L1231.3,1501.0 L1233.8,1501.0 L1236.3,1501.1 L1238.8,1501.2 L1241.3,1501.3 L1243.8,1501.4 L1246.3,1501.5 L1248.8,1501.5 L1251.3,1501.6 L1253.8,1501.7 L1256.3,1501.8 L1258.8,1501.9 L1261.3,1502.0 L1263.8,1502.1 L1266.3,1502.2 L1268.8,1502.3 L1271.3,1502.3 L1273.8,1502.4 L1276.3,1502.5 L1278.8,1502.6 L1281.3,1502.7 L1283.8,1502.8 L1286.3,1502.9 L1288.8,1503.0 L1291.3,1503.1 L1293.8,1503.2 L1296.3,1503.2 L1298.8,1503.3 L1301.4,1503.4 L1303.9,1503.5 L1306.4,1503.6 L1308.9,1503.7 L1311.4,1503.7 L1313.9,1503.8 L1316.4,1503.9 L1318.9,1504.0 L1321.4,1504.1 L1323.9,1504.1 L1326.4,1504.2 L1328.9,1504.3 L1331.4,1504.4 L1333.9,1504.4 L1336.4,1504.5 L1338.9,1504.6 L1341.4,1504.6 L1343.9,1504.7 L1346.4,1504.8 L1348.9,1504.8 L1351.4,1504.9 L1353.9,1504.9 L1356.4,1505.0 L1358.9,1505.0 L1361.4,1505.1 L1363.9,1505.2 L1366.4,1505.2 L1368.9,1505.3 L1371.4,1505.3 L1373.9,1505.4 L1376.4,1505.4 L1378.9,1505.5 L1381.4,1505.5 L1383.9,1505.6 L1386.4,1505.6 L1388.9,1505.7 L1391.4,1505.7 L1393.9,1505.7 L1396.4,1505.8 L1398.9,1505.8 L1401.4,1505.9 L1403.9,1505.9 L1406.4,1506.0 L1408.9,1506.0 L1411.4,1506.0 L1413.9,1506.1 L1416.4,1506.1 L1418.9,1506.2 L1421.4,1506.2 L1423.9,1506.3 L1426.4,1506.3 L1428.9,1506.3 L1431.4,1506.4 L1433.9,1506.4 L1436.4,1506.5 L1438.9,1506.5 L1441.4,1506.5 L1443.9,1506.6 L1446.4,1506.6 L1449.0,1506.7 L1451.5,1506.7 L1454.0,1506.7 L1456.5,1506.8 L1459.0,1506.8 L1461.5,1506.9 L1464.0,1506.9 L1466.5,1506.9 L1469.0,1507.0 L1471.5,1507.0 L1474.0,1507.1 L1476.5,1507.1 L1479.0,1507.1 L1481.5,1507.2 L1484.0,1507.2 L1486.5,1507.3 L1489.0,1507.3 L1491.5,1507.3 L1494.0,1507.4 L1496.5,1507.4 L1499.0,1507.5 L1501.5,1507.5 L1504.0,1507.5 L1506.5,1507.6 L1509.0,1507.6 L1511.5,1507.6 L1514.0,1507.7 L1516.5,1507.7 L1519.0,1507.8 L1521.5,1507.8 L1524.0,1507.8 L1526.5,1507.9 L1529.0,1507.9 L1531.5,1507.9 L1534.0,1508.0 L1536.5,1508.0 L1539.0,1508.0 L1541.5,1508.1 L1544.0,1508.1 L1546.5,1508.1 L1549.0,1508.2 L1551.5,1508.2 L1554.0,1508.3 L1556.5,1508.3 L1559.0,1508.3 L1561.5,1508.4 L1564.0,1508.4 L1566.5,1508.4 L1569.0,1508.5 L1571.6,1508.5 L1574.1,1508.6 L1576.6,1508.6 L1579.1,1508.6 L1581.6,1508.7 L1584.1,1508.7 L1586.6,1508.8 L1589.1,1508.8 L1591.6,1508.9 L1594.1,1508.9 L1596.6,1508.9 L1599.1,1509.0 L1601.6,1509.0 L1604.1,1509.1 L1606.6,1509.1 L1609.1,1509.2 L1611.6,1509.2 L1614.1,1509.3 L1616.6,1509.3 L1619.1,1509.4 L1621.6,1509.4 L1624.1,1509.5 L1626.6,1509.5 L1629.1,1509.6 L1631.6,1509.6 L1634.1,1509.7 L1636.6,1509.7 L1639.1,1509.8 L1641.6,1509.8 L1644.1,1509.9 L1646.6,1509.9 L1649.1,1510.0 L1651.6,1510.0 L1654.1,1510.1 L1656.6,1510.1 L1659.1,1510.2 L1661.6,1510.2 L1664.1,1510.3 L1666.6,1510.3 L1669.1,1510.4 L1671.6,1510.4 L1674.1,1510.5 L1676.6,1510.6 L1679.1,1510.6 L1681.6,1510.7 L1684.1,1510.7 L1686.6,1510.8 L1689.1,1510.8 L1691.6,1510.9 L1694.1,1510.9 L1696.6,1511.0 L1699.1,1511.0 L1701.6,1511.1 L1704.2,1511.2 L1706.7,1511.2 L1709.2,1511.3 L1711.7,1511.3 L1714.2,1511.4 L1716.7,1511.4 L1719.2,1511.5 L1721.7,1511.5 L1724.2,1511.6 L1726.7,1511.6 L1729.2,1511.7 L1731.7,1511.7 L1734.2,1511.8 L1736.7,1511.8 L1739.2,1511.9 L1741.7,1511.9 L1744.2,1512.0 L1746.7,1512.0 L1749.2,1512.1 L1751.7,1512.1 L1754.2,1512.2 L1756.7,1512.2 L1759.2,1512.3 L1761.7,1512.3 L1764.2,1512.4 L1766.7,1512.4 L1769.2,1512.5 L1771.7,1512.5 L1774.2,1512.6 L1776.7,1512.6 L1779.2,1512.6 L1781.7,1512.7 L1784.2,1512.7 L1786.7,1512.8 L1789.2,1512.8 L1791.7,1512.9 L1794.2,1512.9 L1796.7,1512.9 L1799.2,1513.0 L1801.7,1513.0 L1804.2,1513.1 L1806.7,1513.1 L1809.2,1513.1 L1811.7,1513.2 L1814.2,1513.2 L1816.7,1513.3 L1819.2,1513.3 L1821.7,1513.3 L1824.2,1513.4 L1826.7,1513.4 L1829.2,1513.5 L1831.7,1513.5 L1834.3,1513.5 L1836.8,1513.6 L1839.3,1513.6 L1841.8,1513.6 L1844.3,1513.7 L1846.8,1513.7 L1849.3,1513.7 L1851.8,1513.8 L1854.3,1513.8 L1856.8,1513.8 L1859.3,1513.9 L1861.8,1513.9 L1864.3,1513.9 L1866.8,1514.0 L1869.3,1514.0 L1871.8,1514.0 L1874.3,1514.1 L1876.8,1514.1 L1879.3,1514.1 L1881.8,1514.2 L1884.3,1514.2 L1886.8,1514.2 L1889.3,1514.3 L1891.8,1514.3 L1894.3,1514.3 L1896.8,1514.4 L1899.3,1514.4 L1901.8,1514.4 L1904.3,1514.5 L1906.8,1514.5 L1909.3,1514.5 L1911.8,1514.5 L1914.3,1514.6 L1916.8,1514.6 L1919.3,1514.6 L1921.8,1514.7 L1924.3,1514.7 L1926.8,1514.7 L1929.3,1514.8 L1931.8,1514.8 L1934.3,1514.8 L1936.8,1514.8 L1939.3,1514.9 L1941.8,1514.9 L1944.3,1514.9 L1946.8,1515.0 L1949.3,1515.0 L1951.9,1515.0 L1954.4,1515.1 L1956.9,1515.1 L1959.4,1515.1 L1961.9,1515.1 L1964.4,1515.2 L1966.9,1515.2 L1969.4,1515.2 L1971.9,1515.3 L1974.4,1515.3 L1976.9,1515.3 L1979.4,1515.3 L1981.9,1515.4 L1984.4,1515.4 L1986.9,1515.4 L1989.4,1515.5 L1991.9,1515.5 L1994.4,1515.5 L1996.9,1515.5 L1999.4,1515.6 L2001.9,1515.6 L2004.4,1515.6 L2006.9,1515.7 L2009.4,1515.7 L2011.9,1515.7 L2014.4,1515.7 L2016.9,1515.8 L2019.4,1515.8 L2021.9,1515.8 L2024.4,1515.9 L2026.9,1515.9 L2029.4,1515.9 L2031.9,1515.9 L2034.4,1516.0 L2036.9,1516.0 L2039.4,1516.0 L2041.9,1516.1 L2044.4,1516.1 L2046.9,1516.1 L2049.4,1516.1 L2051.9,1516.2 L2054.4,1516.2 L2056.9,1516.2 L2059.4,1516.3 L2061.9,1516.3 L2064.5,1516.3 L2067.0,1516.3 L2069.5,1516.4 L2072.0,1516.4 L2074.5,1516.4 L2077.0,1516.5 L2079.5,1516.5 L2082.0,1516.5 L2084.5,1516.5 L2087.0,1516.6 L2089.5,1516.6 L2092.0,1516.6 L2094.5,1516.7 L2097.0,1516.7 L2099.5,1516.7 L2102.0,1516.8 L2104.5,1516.8 L2107.0,1516.8 L2109.5,1516.8 L2112.0,1516.9 L2114.5,1516.9 L2117.0,1516.9 L2119.5,1517.0 L2122.0,1517.0" stroke="#1A6FDF"/>
<path d="M222.3,430.2 L222.5,427.7 L222.7,425.2 L222.9,422.7 L223.1,420.2 L223.3,417.7 L223.6,415.3 L223.8,412.8 L224.0,410.3 L224.2,407.8 L224.5,405.3 L224.7,402.8 L225.0,400.3 L225.3,397.8 L225.6,395.4 L225.9,392.9 L226.2,390.4 L226.5,387.9 L226.9,385.4 L227.3,383.0 L227.7,380.5 L228.2,378.0 L228.6,375.6 L229.1,373.1 L229.7,370.7 L230.4,368.3 L231.4,366.0 L232.7,363.9 L234.2,361.9 L236.0,360.3 L238.0,359.3 L240.1,359.8 L241.9,361.3 L243.4,363.3 L244.8,365.4 L246.1,367.5 L247.3,369.7 L248.5,371.9 L249.5,374.1 L250.5,376.4 L251.4,378.8 L252.2,381.2 L252.9,383.5 L253.7,385.9 L254.4,388.3 L255.1,390.7 L255.7,393.1 L256.4,395.6 L257.0,398.0 L257.7,400.4 L258.4,402.8 L259.1,405.2 L259.9,407.5 L260.6,409.9 L261.3,412.3 L261.9,414.8 L262.4,417.2 L262.9,419.7 L263.4,422.1 L263.9,424.6 L264.3,427.0 L264.8,429.5 L265.2,431.9 L265.7,434.4 L266.2,436.9 L266.7,439.3 L267.2,441.8 L267.7,444.2 L268.2,446.7 L268.7,449.1 L269.2,451.6 L269.7,454.0 L270.2,456.5 L270.6,458.9 L271.1,461.4 L271.5,463.8 L271.9,466.3 L272.3,468.8 L272.8,471.2 L273.2,473.7 L273.6,476.2 L274.0,478.6 L274.4,481.1 L274.8,483.6 L275.2,486.0 L275.6,488.5 L276.0,491.0 L276.4,493.4 L276.8,495.9 L277.3,498.4 L277.7,500.8 L278.2,503.3 L278.6,505.7 L279.1,508.2 L279.6,510.7 L280.0,513.1 L280.5,515.6 L281.0,518.0 L281.4,520.5 L281.9,522.9 L282.4,525.4 L282.8,527.8 L283.3,530.3 L283.8,532.8 L284.3,535.2 L284.8,537.7 L285.3,540.1 L285.8,542.5 L286.3,545.0 L286.9,547.4 L287.4,549.9 L287.9,552.3 L288.5,554.8 L289.0,557.2 L289.6,559.6 L290.2,562.1 L290.7,564.5 L291.3,566.9 L291.9,569.4 L292.5,571.8 L293.1,574.2 L293.7,576.6 L294.4,579.1 L295.0,581.5 L295.6,583.9 L296.3,586.3 L297.0,588.7 L297.6,591.1 L298.3,593.5 L299.0,595.9 L299.6,598.4 L300.3,600.8 L301.0,603.2 L301.7,605.6 L302.3,608.0 L303.0,610.4 L303.6,612.8 L304.3,615.2 L304.9,617.7 L305.5,620.1 L306.1,622.5 L306.6,624.9 L307.2,627.4 L307.7,629.8 L308.2,632.3 L308.7,634.7 L309.2,637.2 L309.8,639.6 L310.3,642.0 L311.0,644.5 L311.7,646.9 L312.4,649.3 L313.2,651.6 L314.0,654.0 L314.8,656.4 L315.6,658.7 L316.5,661.1 L317.3,663.4 L318.2,665.8 L319.1,668.1 L320.0,670.4 L320.9,672.8 L321.9,675.1 L322.8,677.4 L323.8,679.7 L324.8,682.0 L325.8,684.3 L326.8,686.6 L327.8,688.9 L328.8,691.1 L329.8,693.4 L330.8,695.7 L331.8,698.0 L332.8,700.3 L333.8,702.6 L334.9,704.9 L335.9,707.1 L336.9,709.4 L337.9,711.7 L339.0,714.0 L340.0,716.3 L341.0,718.5 L342.1,720.8 L343.1,723.1 L344.1,725.4 L345.2,727.7 L346.2,729.9 L347.2,732.2 L348.3,734.5 L349.3,736.8 L350.3,739.0 L351.4,741.3 L352.4,743.6 L353.4,745.9 L354.5,748.1 L355.5,750.4 L356.6,752.7 L357.6,754.9 L358.7,757.2 L359.7,759.5 L360.7,761.8 L361.7,764.1 L362.7,766.4 L363.7,768.7 L364.6,771.0 L365.6,773.3 L366.5,775.6 L367.3,778.0 L368.2,780.3 L369.0,782.7 L369.9,785.0 L370.7,787.4 L371.6,789.7 L372.4,792.1 L373.3,794.4 L374.2,796.7 L375.2,799.1 L376.1,801.4 L377.1,803.7 L378.1,806.0 L379.0,808.3 L380.0,810.6 L380.9,812.9 L381.8,815.3 L382.7,817.6 L383.5,820.0 L384.3,822.3 L385.1,824.7 L385.8,827.1 L386.5,829.5 L387.2,831.9 L387.9,834.3 L388.6,836.7 L389.4,839.1 L390.3,841.4 L391.2,843.7 L392.2,846.0 L393.2,848.3 L394.2,850.6 L395.2,852.9 L396.2,855.2 L397.1,857.5 L398.0,859.8 L398.9,862.2 L399.8,864.5 L400.7,866.8 L401.6,869.2 L402.5,871.5 L403.3,873.9 L404.1,876.2 L405.0,878.6 L405.7,881.0 L406.5,883.4 L407.3,885.7 L408.0,888.1 L408.7,890.5 L409.4,892.9 L410.1,895.3 L410.8,897.7 L411.5,900.1 L412.2,902.5 L412.9,904.9 L413.6,907.3 L414.3,909.7 L415.0,912.1 L415.7,914.5 L416.4,916.9 L417.1,919.3 L417.8,921.7 L418.5,924.1 L419.3,926.5 L420.1,928.9 L420.9,931.2 L421.8,933.6 L422.7,935.9 L423.7,938.2 L424.6,940.5 L425.6,942.8 L426.6,945.1 L427.5,947.4 L428.4,949.8 L429.3,952.1 L430.2,954.4 L431.0,956.8 L431.8,959.2 L432.5,961.6 L433.2,964.0 L433.9,966.4 L434.5,968.8 L435.2,971.2 L435.9,973.6 L436.7,976.0 L437.4,978.4 L438.2,980.8 L439.0,983.1 L439.9,985.5 L440.7,987.8 L441.6,990.2 L442.5,992.5 L443.4,994.8 L444.3,997.2 L445.2,999.5 L446.1,1001.8 L447.0,1004.1 L447.9,1006.5 L448.9,1008.8 L449.8,1011.1 L450.8,1013.4 L451.7,1015.7 L452.7,1018.0 L453.7,1020.3 L454.6,1022.7 L455.5,1025.0 L456.4,1027.3 L457.2,1029.7 L458.0,1032.0 L458.8,1034.4 L459.6,1036.8 L460.3,1039.2 L461.0,1041.6 L461.6,1044.0 L462.3,1046.4 L463.0,1048.8 L463.8,1051.2 L464.5,1053.6 L465.1,1056.0 L465.8,1058.4 L466.6,1060.8 L467.4,1063.2 L468.3,1065.5 L469.2,1067.8 L470.2,1070.1 L471.2,1072.4 L472.2,1074.7 L473.2,1077.0 L474.3,1079.2 L475.4,1081.5 L476.4,1083.8 L477.5,1086.0 L478.5,1088.3 L479.5,1090.6 L480.5,1092.9 L481.5,1095.2 L482.5,1097.5 L483.4,1099.8 L484.4,1102.1 L485.4,1104.4 L486.3,1106.7 L487.3,1109.0 L488.3,1111.3 L489.3,1113.6 L490.3,1115.9 L491.3,1118.2 L492.3,1120.5 L493.3,1122.8 L494.3,1125.0 L495.4,1127.3 L496.4,1129.6 L497.4,1131.9 L498.5,1134.2 L499.5,1136.4 L500.5,1138.7 L501.5,1141.0 L502.6,1143.3 L503.6,1145.6 L504.6,1147.9 L505.6,1150.2 L506.6,1152.4 L507.6,1154.7 L508.6,1157.0 L509.7,1159.3 L510.8,1161.5 L511.9,1163.8 L513.0,1166.0 L514.1,1168.2 L515.3,1170.4 L516.5,1172.6 L517.7,1174.8 L518.9,1177.0 L520.1,1179.2 L521.3,1181.4 L522.6,1183.5 L523.8,1185.7 L525.0,1187.9 L526.3,1190.1 L527.5,1192.3 L528.7,1194.4 L529.9,1196.6 L531.1,1198.8 L532.4,1201.0 L533.6,1203.2 L534.8,1205.3 L536.1,1207.5 L537.3,1209.7 L538.6,1211.8 L539.9,1214.0 L541.2,1216.1 L542.6,1218.2 L543.9,1220.3 L545.3,1222.4 L546.7,1224.5 L548.0,1226.6 L549.4,1228.6 L550.9,1230.7 L552.3,1232.8 L553.7,1234.8 L555.1,1236.9 L556.5,1238.9 L558.0,1241.0 L559.4,1243.0 L560.9,1245.0 L562.4,1247.1 L563.8,1249.1 L565.3,1251.1 L566.9,1253.1 L568.4,1255.0 L570.0,1257.0 L571.5,1258.9 L573.1,1260.9 L574.7,1262.8 L576.3,1264.7 L577.9,1266.7 L579.5,1268.6 L581.1,1270.5 L582.7,1272.4 L584.3,1274.3 L585.9,1276.2 L587.5,1278.2 L589.1,1280.1 L590.6,1282.1 L592.2,1284.0 L593.7,1286.0 L595.2,1288.0 L596.7,1290.0 L598.2,1292.0 L599.7,1294.0 L601.2,1296.0 L602.8,1297.9 L604.4,1299.8 L606.1,1301.7 L607.7,1303.6 L609.4,1305.4 L611.1,1307.3 L612.7,1309.2 L614.3,1311.1 L616.0,1313.0 L617.5,1314.9 L619.1,1316.9 L620.7,1318.8 L622.2,1320.8 L623.8,1322.8 L625.3,1324.7 L626.9,1326.7 L628.5,1328.6 L630.1,1330.5 L631.7,1332.4 L633.4,1334.3 L635.0,1336.2 L636.6,1338.1 L638.1,1340.1 L639.7,1342.1 L641.1,1344.1 L642.5,1346.2 L643.8,1348.3 L645.1,1350.4 L646.4,1352.6 L647.7,1354.7 L649.0,1356.9 L650.2,1359.0 L651.5,1361.2 L652.8,1363.3 L654.0,1365.5 L655.3,1367.6 L656.6,1369.8 L657.9,1371.9 L659.2,1374.1 L660.5,1376.2 L661.8,1378.3 L663.2,1380.4 L664.6,1382.5 L666.0,1384.5 L667.5,1386.6 L668.9,1388.6 L670.4,1390.6 L671.9,1392.6 L673.4,1394.6 L674.9,1396.6 L676.5,1398.6 L678.1,1400.5 L679.7,1402.4 L681.4,1404.2 L683.1,1406.0 L684.9,1407.7 L686.8,1409.4 L688.6,1411.1 L690.5,1412.8 L692.4,1414.4 L694.3,1416.0 L696.2,1417.6 L698.1,1419.2 L700.0,1420.9 L701.9,1422.5 L703.8,1424.1 L705.7,1425.8 L707.6,1427.4 L709.6,1428.9 L711.5,1430.5 L713.5,1432.0 L715.5,1433.5 L717.6,1434.9 L719.7,1436.2 L721.8,1437.6 L724.0,1438.9 L726.1,1440.1 L728.3,1441.3 L730.5,1442.5 L732.7,1443.7 L735.0,1444.8 L737.2,1445.9 L739.5,1446.9 L741.8,1447.9 L744.1,1448.9 L746.4,1449.9 L748.7,1450.9 L751.0,1451.8 L753.3,1452.7 L755.7,1453.6 L758.0,1454.5 L760.4,1455.3 L762.7,1456.0 L765.1,1456.8 L767.5,1457.5 L769.9,1458.2 L772.3,1458.9 L774.7,1459.6 L777.1,1460.3 L779.5,1461.0 L781.9,1461.7 L784.3,1462.4 L786.7,1463.2 L789.1,1464.0 L791.4,1464.8 L793.8,1465.6 L796.2,1466.4 L798.5,1467.3 L800.9,1468.1 L803.2,1468.9 L805.6,1469.7 L808.0,1470.5 L810.4,1471.2 L812.8,1471.9 L815.2,1472.6 L817.6,1473.2 L820.0,1473.8 L822.5,1474.3 L824.9,1474.9 L827.4,1475.4 L829.8,1475.9 L832.3,1476.4 L834.7,1476.9 L837.2,1477.3 L839.6,1477.8 L842.1,1478.3 L844.5,1478.8 L847.0,1479.3 L849.4,1479.8 L851.9,1480.2 L854.4,1480.7 L856.8,1481.1 L859.3,1481.6 L861.7,1482.0 L864.2,1482.5 L866.7,1482.9 L869.1,1483.4 L871.6,1483.8 L874.0,1484.3 L876.5,1484.8 L878.9,1485.2 L881.4,1485.7 L883.9,1486.2 L886.3,1486.7 L888.8,1487.2 L891.2,1487.7 L893.7,1488.2 L896.1,1488.7 L898.5,1489.2 L901.0,1489.7 L903.4,1490.2 L905.9,1490.7 L908.3,1491.2 L910.8,1491.7 L913.2,1492.2 L915.7,1492.7 L918.1,1493.2 L920.6,1493.7 L923.1,1494.2 L925.5,1494.6 L928.0,1495.1 L930.4,1495.6 L932.9,1496.0 L935.3,1496.5 L937.8,1497.0 L940.2,1497.4 L942.7,1497.9 L945.2,1498.3 L947.6,1498.8 L950.1,1499.2 L952.6,1499.6 L955.0,1500.1 L957.5,1500.5 L959.9,1500.9 L962.4,1501.3 L964.9,1501.6 L967.4,1502.0 L969.8,1502.4 L972.3,1502.8 L974.8,1503.2 L977.2,1503.6 L979.7,1503.9 L982.2,1504.3 L984.7,1504.6 L987.2,1504.9 L989.6,1505.2 L992.1,1505.5 L994.6,1505.8 L997.1,1506.0 L999.6,1506.3 L1002.1,1506.5 L1004.6,1506.7 L1007.1,1506.9 L1009.5,1507.1 L1012.0,1507.3 L1014.5,1507.4 L1017.0,1507.6 L1019.5,1507.8 L1022.0,1507.9 L1024.5,1508.0 L1027.0,1508.2 L1029.5,1508.3 L1032.0,1508.4 L1034.5,1508.6 L1037.0,1508.7 L1039.5,1508.8 L1042.0,1508.9 L1044.5,1509.0 L1047.0,1509.1 L1049.5,1509.2 L1052.0,1509.3 L1054.5,1509.4 L1057.0,1509.5 L1059.5,1509.6 L1062.0,1509.7 L1064.5,1509.8 L1067.0,1509.9 L1069.5,1509.9 L1072.0,1510.0 L1074.5,1510.1 L1077.0,1510.2 L1079.5,1510.3 L1082.0,1510.3 L1084.5,1510.4 L1087.0,1510.5 L1089.5,1510.5 L1092.0,1510.6 L1094.5,1510.6 L1097.0,1510.7 L1099.5,1510.7 L1102.0,1510.7 L1104.5,1510.8 L1107.0,1510.8 L1109.5,1510.8 L1112.0,1510.8 L1114.5,1510.9 L1117.0,1510.9 L1119.5,1510.9 L1122.0,1510.9 L1124.5,1511.0 L1127.0,1511.0 L1129.5,1511.0 L1132.0,1511.0 L1134.5,1511.1 L1137.0,1511.1 L1139.5,1511.1 L1142.0,1511.1 L1144.5,1511.2 L1147.0,1511.2 L1149.5,1511.3 L1152.0,1511.3 L1154.5,1511.4 L1157.0,1511.4 L1159.5,1511.5 L1162.0,1511.6 L1164.5,1511.7 L1167.0,1511.7 L1169.5,1511.8 L1172.0,1512.0 L1174.5,1512.1 L1177.0,1512.2 L1179.5,1512.3 L1182.0,1512.5 L1184.5,1512.6 L1186.9,1512.7 L1189.4,1512.9 L1191.9,1513.0 L1194.4,1513.1 L1196.9,1513.2 L1199.4,1513.3 L1201.9,1513.4 L1204.4,1513.5 L1206.9,1513.6 L1209.4,1513.7 L1211.9,1513.8 L1214.4,1513.8 L1216.9,1513.9 L1219.4,1513.9 L1221.9,1514.0 L1224.4,1514.1 L1226.9,1514.1 L1229.4,1514.2 L1231.9,1514.2 L1234.4,1514.3 L1236.9,1514.3 L1239.4,1514.3 L1241.9,1514.4 L1244.4,1514.4 L1246.9,1514.5 L1249.4,1514.5 L1251.9,1514.5 L1254.4,1514.6 L1256.9,1514.6 L1259.4,1514.6 L1261.9,1514.7 L1264.4,1514.7 L1266.9,1514.7 L1269.4,1514.8 L1271.9,1514.8 L1274.4,1514.8 L1276.9,1514.9 L1279.4,1514.9 L1281.9,1514.9 L1284.4,1514.9 L1286.9,1515.0 L1289.4,1515.0 L1291.9,1515.0 L1294.4,1515.1 L1296.9,1515.1 L1299.4,1515.1 L1301.9,1515.1 L1304.4,1515.2 L1306.9,1515.2 L1309.4,1515.2 L1311.9,1515.2 L1314.4,1515.3 L1316.9,1515.3 L1319.4,1515.3 L1321.9,1515.3 L1324.4,1515.3 L1326.9,1515.4 L1329.4,1515.4 L1331.9,1515.4 L1334.4,1515.4 L1336.9,1515.5 L1339.4,1515.5 L1341.9,1515.5 L1344.4,1515.5 L1346.9,1515.6 L1349.4,1515.6 L1351.9,1515.6 L1354.4,1515.6 L1356.9,1515.7 L1359.4,1515.7 L1361.9,1515.7 L1364.4,1515.7 L1366.9,1515.7 L1369.4,1515.8 L1371.9,1515.8 L1374.4,1515.8 L1376.9,1515.8 L1379.4,1515.8 L1381.9,1515.8 L1384.4,1515.9 L1386.9,1515.9 L1389.4,1515.9 L1391.9,1515.9 L1394.4,1515.9 L1396.9,1515.9 L1399.4,1515.9 L1401.9,1516.0 L1404.4,1516.0 L1406.9,1516.0 L1409.4,1516.0 L1411.9,1516.0 L1414.4,1516.0 L1416.9,1516.0 L1419.4,1516.0 L1421.9,1516.1 L1424.4,1516.1 L1426.9,1516.1 L1429.4,1516.1 L1431.9,1516.1 L1434.4,1516.1 L1436.9,1516.1 L1439.4,1516.1 L1441.9,1516.2 L1444.4,1516.2 L1446.9,1516.2 L1449.4,1516.2 L1451.9,1516.2 L1454.4,1516.2 L1456.9,1516.2 L1459.4,1516.2 L1461.9,1516.3 L1464.4,1516.3 L1466.9,1516.3 L1469.4,1516.3 L1471.9,1516.3 L1474.4,1516.3 L1476.9,1516.3 L1479.4,1516.4 L1481.9,1516.4 L1484.4,1516.4 L1486.9,1516.4 L1489.4,1516.4 L1491.9,1516.4 L1494.4,1516.5 L1496.9,1516.5 L1499.4,1516.5 L1501.9,1516.5 L1504.4,1516.5 L1506.9,1516.5 L1509.4,1516.6 L1511.9,1516.6 L1514.4,1516.6 L1516.9,1516.6 L1519.4,1516.6 L1521.9,1516.6 L1524.4,1516.7 L1526.9,1516.7 L1529.4,1516.7 L1531.9,1516.7 L1534.4,1516.7 L1536.9,1516.7 L1539.4,1516.7 L1541.9,1516.8 L1544.4,1516.8 L1546.9,1516.8 L1549.4,1516.8 L1551.9,1516.8 L1554.4,1516.8 L1556.9,1516.8 L1559.4,1516.9 L1561.9,1516.9 L1564.4,1516.9 L1566.9,1516.9 L1569.4,1516.9 L1571.9,1516.9 L1574.4,1516.9 L1576.9,1516.9 L1579.4,1516.9 L1581.9,1516.9 L1584.4,1517.0 L1586.9,1517.0 L1589.4,1517.0 L1591.9,1517.0 L1594.4,1517.0 L1596.9,1517.0 L1599.4,1517.0 L1601.9,1517.0 L1604.4,1517.0 L1606.9,1517.0 L1609.4,1517.0 L1611.9,1517.0 L1614.4,1517.0 L1616.9,1517.0 L1619.4,1517.0 L1622.0,1517.0 L1624.5,1517.1 L1627.0,1517.1 L1629.5,1517.1 L1632.0,1517.1 L1634.5,1517.1 L1637.0,1517.1 L1639.5,1517.1 L1642.0,1517.1 L1644.5,1517.1 L1647.0,1517.1 L1649.5,1517.1 L1652.0,1517.1 L1654.5,1517.1 L1657.0,1517.1 L1659.5,1517.1 L1662.0,1517.1 L1664.5,1517.1 L1667.0,1517.1 L1669.5,1517.1 L1672.0,1517.1 L1674.5,1517.1 L1677.0,1517.1 L1679.5,1517.1 L1682.0,1517.1 L1684.5,1517.1 L1687.0,1517.1 L1689.5,1517.1 L1692.0,1517.1 L1694.5,1517.1 L1697.0,1517.1 L1699.5,1517.1 L1702.0,1517.1 L1704.5,1517.1 L1707.0,1517.1 L1709.5,1517.1 L1712.0,1517.1 L1714.5,1517.1 L1717.0,1517.1 L1719.5,1517.1 L1722.0,1517.1 L1724.5,1517.1 L1727.0,1517.1 L1729.5,1517.1 L1732.0,1517.1 L1734.5,1517.1 L1737.0,1517.1 L1739.5,1517.1 L1742.0,1517.1 L1744.5,1517.1 L1747.0,1517.1 L1749.5,1517.1 L1752.0,1517.1 L1754.5,1517.1 L1757.0,1517.1 L1759.5,1517.1 L1762.0,1517.1 L1764.5,1517.1 L1767.0,1517.1 L1769.5,1517.1 L1772.0,1517.1 L1774.5,1517.1 L1777.0,1517.1 L1779.5,1517.1 L1782.0,1517.1 L1784.5,1517.1 L1787.0,1517.1 L1789.5,1517.1 L1792.0,1517.1 L1794.5,1517.1 L1797.0,1517.1 L1799.5,1517.1 L1802.0,1517.1 L1804.5,1517.1 L1807.0,1517.1 L1809.5,1517.1 L1812.0,1517.1 L1814.5,1517.1 L1817.0,1517.1 L1819.5,1517.1 L1822.0,1517.1 L1824.5,1517.1 L1827.0,1517.1 L1829.5,1517.1 L1832.0,1517.1 L1834.5,1517.1 L1837.0,1517.1 L1839.5,1517.1 L1842.0,1517.1 L1844.5,1517.1 L1847.0,1517.1 L1849.5,1517.1 L1852.0,1517.1 L1854.5,1517.1 L1857.0,1517.1 L1859.5,1517.1 L1862.0,1517.1 L1864.5,1517.1 L1867.0,1517.1 L1869.5,1517.1 L1872.0,1517.1 L1874.5,1517.1 L1877.0,1517.1 L1879.5,1517.1 L1882.0,1517.1 L1884.5,1517.1 L1887.0,1517.1 L1889.5,1517.1 L1892.0,1517.1 L1894.5,1517.1 L1897.0,1517.1 L1899.5,1517.1 L1902.0,1517.1 L1904.5,1517.1 L1907.0,1517.1 L1909.5,1517.1 L1912.0,1517.1 L1914.5,1517.1 L1917.0,1517.1 L1919.5,1517.1 L1922.0,1517.1 L1924.5,1517.1 L1927.0,1517.1 L1929.5,1517.1 L1932.0,1517.1 L1934.5,1517.1 L1937.0,1517.1 L1939.5,1517.1 L1942.0,1517.1 L1944.5,1517.1 L1947.0,1517.1 L1949.5,1517.1 L1952.0,1517.1 L1954.5,1517.1 L1957.0,1517.1 L1959.5,1517.1 L1962.0,1517.1 L1964.5,1517.1 L1967.0,1517.1 L1969.5,1517.1 L1972.0,1517.0 L1974.5,1517.0 L1977.0,1517.0 L1979.5,1517.0 L1982.0,1517.0 L1984.5,1517.0 L1987.0,1517.0 L1989.5,1517.0 L1992.0,1517.0 L1994.5,1517.0 L1997.0,1517.0 L1999.5,1517.0 L2002.0,1517.0 L2004.5,1517.0 L2007.0,1517.0 L2009.5,1517.0 L2012.0,1517.0 L2014.5,1517.0 L2017.0,1517.0 L2019.5,1517.0 L2022.0,1517.0 L2024.5,1517.0 L2027.0,1517.0 L2029.5,1517.0 L2032.0,1517.0 L2034.5,1517.0 L2037.0,1517.0 L2039.5,1517.0 L2042.0,1517.0 L2044.5,1517.0 L2047.0,1517.0 L2049.5,1517.0 L2052.0,1517.0 L2054.5,1517.0 L2057.0,1517.0 L2059.5,1517.0 L2062.0,1517.0 L2064.5,1517.0 L2067.0,1517.0 L2069.5,1517.0 L2072.0,1517.0 L2074.5,1517.0 L2077.0,1517.0 L2079.5,1517.0 L2082.0,1517.0 L2084.5,1517.0 L2087.0,1517.0 L2089.5,1517.0 L2092.0,1517.0 L2094.5,1517.0 L2097.0,1517.0 L2099.5,1517.0 L2102.0,1517.0 L2104.5,1517.0 L2107.0,1517.0 L2109.5,1517.0 L2112.0,1517.0 L2114.5,1517.0 L2117.0,1517.0 L2119.5,1517.0 L2122.0,1517.0" stroke="#37AD6B"/>
</g>
<line x1="248" y1="90" x2="248" y2="722.5" stroke="#E4B030" stroke-width="12" stroke-dasharray="55.6 49.2"/>
<line x1="852.8" y1="1194.2" x2="852.8" y2="1566" stroke="#000" stroke-width="11.3" stroke-dasharray="55.2 49.4"/>
<g fill="#000">
<rect x="263.3" y="1573" width="6.4" height="27"/>
<rect x="727.3" y="1573" width="6.4" height="27"/>
<rect x="1191.3" y="1573" width="6.4" height="27"/>
<rect x="1655.3" y="1573" width="6.4" height="27"/>
<rect x="2119.3" y="1573" width="6.4" height="27"/>
<rect x="495.3" y="1573" width="6.4" height="12"/>
<rect x="959.3" y="1573" width="6.4" height="12"/>
<rect x="1423.3" y="1573" width="6.4" height="12"/>
<rect x="1887.3" y="1573" width="6.4" height="12"/>
</g>
<g font-family="Liberation Serif, Times New Roman, serif" font-size="81" text-anchor="middle" fill="#000">
<text x="265.5" y="1682">200</text>
<text x="729.5" y="1682">300</text>
<text x="1193.5" y="1682">400</text>
<text x="1657.5" y="1682">500</text>
<text x="2121.5" y="1682">600</text>
</g>
<text x="1169.5" y="1821" font-family="Liberation Serif, Times New Roman, serif" font-size="88.4" font-weight="bold" text-anchor="middle">Wavelength (nm)</text>
<text transform="translate(98,748.5) rotate(-90)" font-family="Liberation Serif, Times New Roman, serif" font-size="79.5" font-weight="bold" text-anchor="middle">Absorbance (a.u.)</text>
<rect x="1453" y="98.15" width="179" height="12.5" fill="#515151"/>
<text x="1649" y="131.5" font-family="Liberation Serif, Times New Roman, serif" font-size="80.4">Sn-Si-30-0.2</text>
<rect x="1453" y="195.75" width="179" height="12.5" fill="#F14040"/>
<text x="1649" y="229" font-family="Liberation Serif, Times New Roman, serif" font-size="80.4">Sn-Si-60-0.2</text>
<rect x="1453" y="293.35" width="179" height="12.5" fill="#37AD6B"/>
<text x="1649" y="326.5" font-family="Liberation Serif, Times New Roman, serif" font-size="80.4">Sn-Si-90-0.2</text>
<rect x="1453" y="390.95" width="179" height="12.5" fill="#1A6FDF"/>
<text x="1649" y="424.3" font-family="Liberation Serif, Times New Roman, serif" font-size="80.4">Sn-Si-125-0.2</text>
<text x="397" y="217" font-family="Liberation Serif, Times New Roman, serif" font-size="79">195 nm</text>
<text x="751.5" y="1148" font-family="Liberation Serif, Times New Roman, serif" font-size="80">325 nm</text>
<line x1="365.7" y1="157.5" x2="300" y2="135.5" stroke="#000" stroke-width="3"/>
<polygon points="263.9,123.5 305,127 302,136.6 297.3,145.3" fill="#000"/>
</svg>
</body></html>
